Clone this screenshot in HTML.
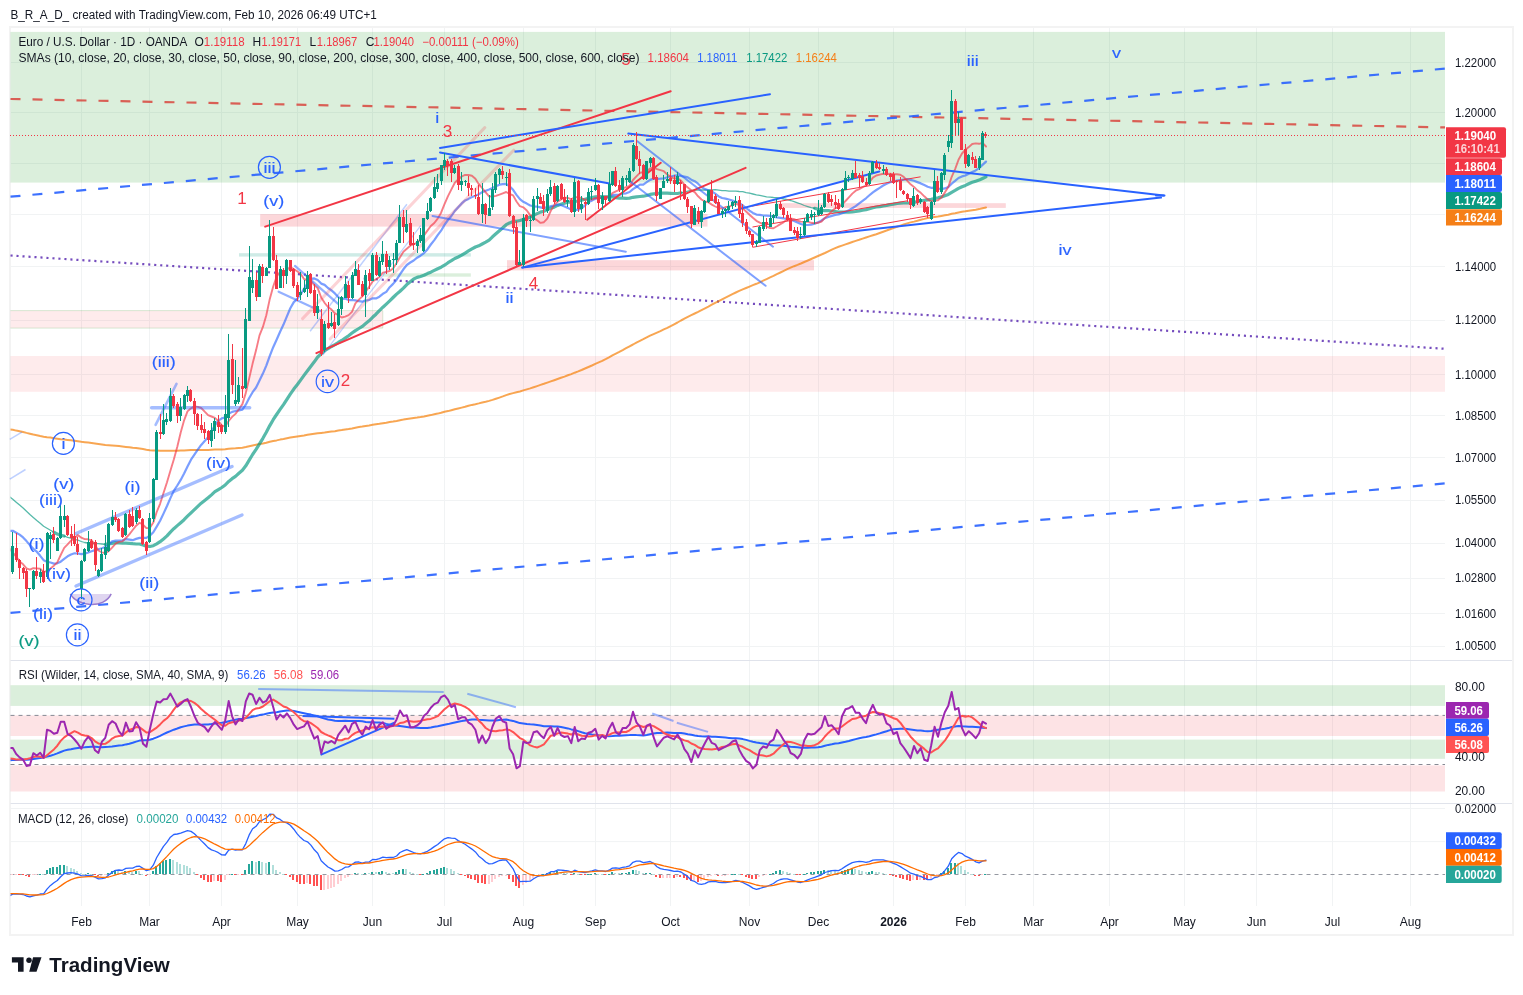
<!DOCTYPE html><html><head><meta charset="utf-8"><style>html,body{margin:0;padding:0;background:#fff;}svg{display:block;font-family:"Liberation Sans",sans-serif;will-change:transform;}</style></head><body><svg width="1523" height="995" viewBox="0 0 1523 995"><defs><clipPath id="cmain"><rect x="10.5" y="28" width="1434.5" height="632"/></clipPath><clipPath id="crsi"><rect x="10.5" y="661" width="1434.5" height="142"/></clipPath><clipPath id="cmacd"><rect x="10.5" y="804" width="1434.5" height="102"/></clipPath></defs><rect x="0" y="0" width="1523" height="995" fill="#ffffff"/>
<text x="10.5" y="19.2" font-size="12" fill="#131722" text-anchor="start" font-weight="normal" textLength="366.3" lengthAdjust="spacingAndGlyphs" >B_R_A_D_ created with TradingView.com, Feb 10, 2026 06:49 UTC+1</text>
<rect x="10" y="27" width="1503" height="908" fill="none" stroke="#F3F3F3" stroke-width="2"/>
<line x1="81.5" y1="28.0" x2="81.5" y2="660.0" stroke="#F1F3F4" stroke-width="1" />
<line x1="81.5" y1="661.0" x2="81.5" y2="803.0" stroke="#F1F3F4" stroke-width="1" />
<line x1="81.5" y1="804.0" x2="81.5" y2="906.0" stroke="#F1F3F4" stroke-width="1" />
<line x1="149.5" y1="28.0" x2="149.5" y2="660.0" stroke="#F1F3F4" stroke-width="1" />
<line x1="149.5" y1="661.0" x2="149.5" y2="803.0" stroke="#F1F3F4" stroke-width="1" />
<line x1="149.5" y1="804.0" x2="149.5" y2="906.0" stroke="#F1F3F4" stroke-width="1" />
<line x1="221.5" y1="28.0" x2="221.5" y2="660.0" stroke="#F1F3F4" stroke-width="1" />
<line x1="221.5" y1="661.0" x2="221.5" y2="803.0" stroke="#F1F3F4" stroke-width="1" />
<line x1="221.5" y1="804.0" x2="221.5" y2="906.0" stroke="#F1F3F4" stroke-width="1" />
<line x1="297.5" y1="28.0" x2="297.5" y2="660.0" stroke="#F1F3F4" stroke-width="1" />
<line x1="297.5" y1="661.0" x2="297.5" y2="803.0" stroke="#F1F3F4" stroke-width="1" />
<line x1="297.5" y1="804.0" x2="297.5" y2="906.0" stroke="#F1F3F4" stroke-width="1" />
<line x1="372.5" y1="28.0" x2="372.5" y2="660.0" stroke="#F1F3F4" stroke-width="1" />
<line x1="372.5" y1="661.0" x2="372.5" y2="803.0" stroke="#F1F3F4" stroke-width="1" />
<line x1="372.5" y1="804.0" x2="372.5" y2="906.0" stroke="#F1F3F4" stroke-width="1" />
<line x1="444.5" y1="28.0" x2="444.5" y2="660.0" stroke="#F1F3F4" stroke-width="1" />
<line x1="444.5" y1="661.0" x2="444.5" y2="803.0" stroke="#F1F3F4" stroke-width="1" />
<line x1="444.5" y1="804.0" x2="444.5" y2="906.0" stroke="#F1F3F4" stroke-width="1" />
<line x1="523.5" y1="28.0" x2="523.5" y2="660.0" stroke="#F1F3F4" stroke-width="1" />
<line x1="523.5" y1="661.0" x2="523.5" y2="803.0" stroke="#F1F3F4" stroke-width="1" />
<line x1="523.5" y1="804.0" x2="523.5" y2="906.0" stroke="#F1F3F4" stroke-width="1" />
<line x1="595.5" y1="28.0" x2="595.5" y2="660.0" stroke="#F1F3F4" stroke-width="1" />
<line x1="595.5" y1="661.0" x2="595.5" y2="803.0" stroke="#F1F3F4" stroke-width="1" />
<line x1="595.5" y1="804.0" x2="595.5" y2="906.0" stroke="#F1F3F4" stroke-width="1" />
<line x1="670.5" y1="28.0" x2="670.5" y2="660.0" stroke="#F1F3F4" stroke-width="1" />
<line x1="670.5" y1="661.0" x2="670.5" y2="803.0" stroke="#F1F3F4" stroke-width="1" />
<line x1="670.5" y1="804.0" x2="670.5" y2="906.0" stroke="#F1F3F4" stroke-width="1" />
<line x1="749.5" y1="28.0" x2="749.5" y2="660.0" stroke="#F1F3F4" stroke-width="1" />
<line x1="749.5" y1="661.0" x2="749.5" y2="803.0" stroke="#F1F3F4" stroke-width="1" />
<line x1="749.5" y1="804.0" x2="749.5" y2="906.0" stroke="#F1F3F4" stroke-width="1" />
<line x1="818.5" y1="28.0" x2="818.5" y2="660.0" stroke="#F1F3F4" stroke-width="1" />
<line x1="818.5" y1="661.0" x2="818.5" y2="803.0" stroke="#F1F3F4" stroke-width="1" />
<line x1="818.5" y1="804.0" x2="818.5" y2="906.0" stroke="#F1F3F4" stroke-width="1" />
<line x1="893.5" y1="28.0" x2="893.5" y2="660.0" stroke="#F1F3F4" stroke-width="1" />
<line x1="893.5" y1="661.0" x2="893.5" y2="803.0" stroke="#F1F3F4" stroke-width="1" />
<line x1="893.5" y1="804.0" x2="893.5" y2="906.0" stroke="#F1F3F4" stroke-width="1" />
<line x1="965.5" y1="28.0" x2="965.5" y2="660.0" stroke="#F1F3F4" stroke-width="1" />
<line x1="965.5" y1="661.0" x2="965.5" y2="803.0" stroke="#F1F3F4" stroke-width="1" />
<line x1="965.5" y1="804.0" x2="965.5" y2="906.0" stroke="#F1F3F4" stroke-width="1" />
<line x1="1033.5" y1="28.0" x2="1033.5" y2="660.0" stroke="#F1F3F4" stroke-width="1" />
<line x1="1033.5" y1="661.0" x2="1033.5" y2="803.0" stroke="#F1F3F4" stroke-width="1" />
<line x1="1033.5" y1="804.0" x2="1033.5" y2="906.0" stroke="#F1F3F4" stroke-width="1" />
<line x1="1109.5" y1="28.0" x2="1109.5" y2="660.0" stroke="#F1F3F4" stroke-width="1" />
<line x1="1109.5" y1="661.0" x2="1109.5" y2="803.0" stroke="#F1F3F4" stroke-width="1" />
<line x1="1109.5" y1="804.0" x2="1109.5" y2="906.0" stroke="#F1F3F4" stroke-width="1" />
<line x1="1184.5" y1="28.0" x2="1184.5" y2="660.0" stroke="#F1F3F4" stroke-width="1" />
<line x1="1184.5" y1="661.0" x2="1184.5" y2="803.0" stroke="#F1F3F4" stroke-width="1" />
<line x1="1184.5" y1="804.0" x2="1184.5" y2="906.0" stroke="#F1F3F4" stroke-width="1" />
<line x1="1256.5" y1="28.0" x2="1256.5" y2="660.0" stroke="#F1F3F4" stroke-width="1" />
<line x1="1256.5" y1="661.0" x2="1256.5" y2="803.0" stroke="#F1F3F4" stroke-width="1" />
<line x1="1256.5" y1="804.0" x2="1256.5" y2="906.0" stroke="#F1F3F4" stroke-width="1" />
<line x1="1332.5" y1="28.0" x2="1332.5" y2="660.0" stroke="#F1F3F4" stroke-width="1" />
<line x1="1332.5" y1="661.0" x2="1332.5" y2="803.0" stroke="#F1F3F4" stroke-width="1" />
<line x1="1332.5" y1="804.0" x2="1332.5" y2="906.0" stroke="#F1F3F4" stroke-width="1" />
<line x1="1410.5" y1="28.0" x2="1410.5" y2="660.0" stroke="#F1F3F4" stroke-width="1" />
<line x1="1410.5" y1="661.0" x2="1410.5" y2="803.0" stroke="#F1F3F4" stroke-width="1" />
<line x1="1410.5" y1="804.0" x2="1410.5" y2="906.0" stroke="#F1F3F4" stroke-width="1" />
<line x1="10.5" y1="62.5" x2="1445.0" y2="62.5" stroke="#F1F3F4" stroke-width="1" />
<line x1="10.5" y1="112.5" x2="1445.0" y2="112.5" stroke="#F1F3F4" stroke-width="1" />
<line x1="10.5" y1="163.5" x2="1445.0" y2="163.5" stroke="#F1F3F4" stroke-width="1" />
<line x1="10.5" y1="214.5" x2="1445.0" y2="214.5" stroke="#F1F3F4" stroke-width="1" />
<line x1="10.5" y1="266.5" x2="1445.0" y2="266.5" stroke="#F1F3F4" stroke-width="1" />
<line x1="10.5" y1="320.5" x2="1445.0" y2="320.5" stroke="#F1F3F4" stroke-width="1" />
<line x1="10.5" y1="374.5" x2="1445.0" y2="374.5" stroke="#F1F3F4" stroke-width="1" />
<line x1="10.5" y1="415.5" x2="1445.0" y2="415.5" stroke="#F1F3F4" stroke-width="1" />
<line x1="10.5" y1="457.5" x2="1445.0" y2="457.5" stroke="#F1F3F4" stroke-width="1" />
<line x1="10.5" y1="500.5" x2="1445.0" y2="500.5" stroke="#F1F3F4" stroke-width="1" />
<line x1="10.5" y1="543.5" x2="1445.0" y2="543.5" stroke="#F1F3F4" stroke-width="1" />
<line x1="10.5" y1="578.5" x2="1445.0" y2="578.5" stroke="#F1F3F4" stroke-width="1" />
<line x1="10.5" y1="613.5" x2="1445.0" y2="613.5" stroke="#F1F3F4" stroke-width="1" />
<line x1="10.5" y1="646.5" x2="1445.0" y2="646.5" stroke="#F1F3F4" stroke-width="1" />
<line x1="10.5" y1="808.5" x2="1445.0" y2="808.5" stroke="#F1F3F4" stroke-width="1" />
<line x1="10.5" y1="841.6" x2="1445.0" y2="841.6" stroke="#F1F3F4" stroke-width="1" />
<line x1="10.5" y1="660.5" x2="1512.0" y2="660.5" stroke="#E0E3EB" stroke-width="1" />
<line x1="10.5" y1="803.5" x2="1512.0" y2="803.5" stroke="#E0E3EB" stroke-width="1" />
<rect x="10.50" y="31.90" width="1434.50" height="150.70" fill="rgba(76,175,80,0.2)" />
<rect x="260.20" y="214.10" width="447.30" height="12.50" fill="rgba(242,54,69,0.2)" />
<rect x="507.00" y="260.20" width="307.00" height="10.20" fill="rgba(242,54,69,0.2)" />
<rect x="775.00" y="203.20" width="230.80" height="4.70" fill="rgba(242,54,69,0.2)" />
<rect x="10.50" y="310.60" width="372.30" height="17.50" fill="rgba(242,54,69,0.1)" />
<line x1="10.5" y1="310.6" x2="382.8" y2="310.6" stroke="rgba(76,175,80,0.22)" stroke-width="1" />
<line x1="10.5" y1="328.1" x2="382.8" y2="328.1" stroke="rgba(76,175,80,0.22)" stroke-width="1" />
<line x1="382.8" y1="310.6" x2="382.8" y2="328.1" stroke="rgba(76,175,80,0.22)" stroke-width="1" />
<rect x="10.50" y="356.00" width="1434.50" height="35.80" fill="rgba(242,54,69,0.1)" />
<rect x="239.00" y="253.20" width="231.80" height="3.40" fill="rgba(8,153,129,0.2)" />
<rect x="383.00" y="273.30" width="87.80" height="3.40" fill="rgba(76,175,80,0.2)" />
<rect x="10.50" y="685.20" width="1434.50" height="20.70" fill="rgba(76,175,80,0.2)" />
<rect x="10.50" y="715.40" width="1434.50" height="20.60" fill="rgba(242,54,69,0.14)" />
<rect x="10.50" y="739.60" width="1434.50" height="19.20" fill="rgba(76,175,80,0.2)" />
<rect x="10.50" y="765.40" width="1434.50" height="26.10" fill="rgba(242,54,69,0.14)" />
<line x1="10.5" y1="715.4" x2="1445.0" y2="715.4" stroke="#868993" stroke-width="1" stroke-dasharray="4 4"/>
<line x1="10.5" y1="764.5" x2="1445.0" y2="764.5" stroke="#868993" stroke-width="1" stroke-dasharray="4 4"/>
<line x1="10.5" y1="874.5" x2="1445.0" y2="874.5" stroke="#9598A1" stroke-width="1" stroke-dasharray="4 4"/>
<line x1="10.5" y1="99.0" x2="1445.0" y2="127.4" stroke="#D9463E" stroke-width="2.2" stroke-dasharray="10 12" opacity="0.85"/>
<line x1="10.5" y1="196.7" x2="1445.0" y2="68.6" stroke="#2962FF" stroke-width="2.2" stroke-dasharray="10 12" opacity="0.9"/>
<line x1="10.5" y1="612.9" x2="1445.0" y2="483.4" stroke="#2962FF" stroke-width="2.2" stroke-dasharray="10 12" opacity="0.9"/>
<line x1="10.5" y1="255.5" x2="1445.0" y2="348.8" stroke="#673AB7" stroke-width="2.2" stroke-dasharray="2.1 3.9" opacity="0.9"/>
<g clip-path="url(#cmain)">
<polyline points="9.3,429.3 12.8,429.8 16.2,430.6 19.6,431.3 23.1,432.0 26.5,432.9 29.9,433.7 33.3,434.5 36.8,435.2 40.2,436.0 43.6,436.7 47.0,437.2 50.5,437.6 53.9,438.2 57.3,438.7 60.7,439.2 64.2,439.5 67.6,439.9 71.0,440.3 74.5,440.8 77.9,441.3 81.3,441.8 84.7,442.2 88.2,442.6 91.6,443.0 95.0,443.4 98.4,443.9 101.9,444.4 105.3,444.9 108.7,445.2 112.1,445.5 115.6,445.8 119.0,446.1 122.4,446.5 125.9,446.9 129.3,447.3 132.7,447.8 136.1,448.1 139.6,448.6 143.0,449.1 146.4,449.7 149.8,450.2 153.3,450.5 156.7,450.6 160.1,450.7 163.5,450.7 167.0,450.8 170.4,450.7 173.8,450.7 177.3,450.7 180.7,450.6 184.1,450.5 187.5,450.3 191.0,450.1 194.4,450.0 197.8,449.9 201.2,450.0 204.7,449.9 208.1,449.9 211.5,449.7 214.9,449.6 218.4,449.5 221.8,449.4 225.2,449.2 228.7,448.7 232.1,448.4 235.5,448.2 238.9,447.9 242.4,447.7 245.8,447.0 249.2,446.2 252.6,445.5 256.1,444.8 259.5,444.1 262.9,443.5 266.3,442.7 269.8,441.7 273.2,441.0 276.6,440.4 280.1,439.6 283.5,439.0 286.9,438.2 290.3,437.6 293.8,437.0 297.2,436.5 300.6,436.0 304.0,435.5 307.5,434.8 310.9,434.2 314.3,433.7 317.7,433.2 321.2,432.9 324.6,432.6 328.0,432.1 331.5,431.6 334.9,431.2 338.3,430.6 341.7,430.1 345.2,429.5 348.6,429.0 352.0,428.4 355.4,427.7 358.9,427.0 362.3,426.6 365.7,425.9 369.1,425.4 372.6,424.8 376.0,424.2 379.4,423.8 382.9,423.2 386.3,422.7 389.7,422.0 393.1,421.5 396.6,420.9 400.0,420.2 403.4,419.6 406.8,418.9 410.3,418.4 413.7,417.9 417.1,417.5 420.5,417.0 424.0,416.4 427.4,415.7 430.8,415.1 434.3,414.3 437.7,413.6 441.1,412.8 444.5,411.8 448.0,411.1 451.4,410.2 454.8,409.3 458.2,408.5 461.7,407.6 465.1,406.8 468.5,405.8 471.9,404.9 475.4,404.2 478.8,403.4 482.2,402.5 485.7,401.8 489.1,400.9 492.5,399.9 495.9,398.8 499.4,397.6 502.8,396.4 506.2,395.1 509.6,394.0 513.1,393.1 516.5,392.2 519.9,391.5 523.3,390.4 526.8,389.4 530.2,388.4 533.6,387.3 537.1,386.1 540.5,384.9 543.9,383.8 547.3,382.6 550.8,381.4 554.2,380.2 557.6,379.0 561.0,377.8 564.5,376.6 567.9,375.3 571.3,374.1 574.7,372.7 578.2,371.4 581.6,370.0 585.0,368.5 588.5,367.0 591.9,365.5 595.3,363.9 598.7,362.4 602.2,360.8 605.6,359.1 609.0,357.3 612.4,355.3 615.9,353.6 619.3,351.9 622.7,350.1 626.1,348.2 629.6,346.3 633.0,344.5 636.4,342.6 639.9,340.9 643.3,339.2 646.7,337.4 650.1,335.7 653.6,334.1 657.0,332.6 660.4,331.1 663.8,329.4 667.3,327.8 670.7,326.1 674.1,324.3 677.5,322.5 681.0,320.5 684.4,318.7 687.8,316.9 691.3,315.2 694.7,313.5 698.1,311.9 701.5,310.2 705.0,308.4 708.4,306.6 711.8,304.7 715.2,302.8 718.7,301.1 722.1,299.3 725.5,297.6 729.0,295.8 732.4,294.1 735.8,292.5 739.2,290.9 742.7,289.4 746.1,288.0 749.5,286.6 752.9,285.2 756.4,283.8 759.8,282.3 763.2,280.7 766.6,279.1 770.1,277.4 773.5,275.9 776.9,274.2 780.4,272.5 783.8,270.8 787.2,269.2 790.6,267.7 794.1,266.2 797.5,264.9 800.9,263.5 804.3,262.0 807.8,260.5 811.2,259.0 814.6,257.5 818.0,256.0 821.5,254.5 824.9,253.0 828.3,251.3 831.8,249.6 835.2,248.1 838.6,246.8 842.0,245.6 845.5,244.4 848.9,243.2 852.3,242.0 855.7,240.9 859.2,239.8 862.6,238.6 866.0,237.5 869.4,236.4 872.9,235.3 876.3,234.2 879.7,233.0 883.2,231.7 886.6,230.5 890.0,229.2 893.4,228.0 896.9,226.8 900.3,225.6 903.7,224.5 907.1,223.4 910.6,222.4 914.0,221.6 917.4,220.7 920.8,219.7 924.3,218.9 927.7,218.0 931.1,217.4 934.6,216.9 938.0,216.5 941.4,215.9 944.8,215.3 948.3,214.7 951.7,213.8 955.1,213.2 958.5,212.5 962.0,211.8 965.4,211.3 968.8,210.7 972.2,210.2 975.7,209.7 979.1,209.1 982.5,208.2 986.0,207.5" fill="none" stroke="#F57C00" stroke-width="2" stroke-linejoin="round" stroke-linecap="round" opacity="0.68"/>
<polyline points="9.3,496.6 12.8,499.2 16.2,502.2 19.6,505.1 23.1,508.0 26.5,511.2 29.9,514.5 33.3,517.4 36.8,520.5 40.2,523.3 43.6,526.3 47.0,528.2 50.5,530.3 53.9,532.2" fill="none" stroke="#089981" stroke-width="1.3" stroke-linejoin="round" stroke-linecap="round" opacity="0.68"/>
<polyline points="53.9,532.2 57.3,534.1 60.7,535.2 64.2,536.0" fill="none" stroke="#089981" stroke-width="3.2" stroke-linejoin="round" stroke-linecap="round" opacity="0.68"/>
<polyline points="64.2,536.0 67.6,537.3 71.0,538.1 74.5,539.3 77.9,540.2 81.3,541.5 84.7,542.5 88.2,543.0 91.6,543.0 95.0,543.5 98.4,543.6 101.9,544.0 105.3,544.4" fill="none" stroke="#089981" stroke-width="1.3" stroke-linejoin="round" stroke-linecap="round" opacity="0.68"/>
<polyline points="105.3,544.4 108.7,543.9 112.1,543.3 115.6,542.7 119.0,542.9 122.4,543.1 125.9,543.1 129.3,543.3 132.7,543.7 136.1,544.0 139.6,544.0 143.0,545.1 146.4,546.2 149.8,546.5 153.3,545.7 156.7,543.9 160.1,541.7 163.5,539.0 167.0,535.9 170.4,532.1 173.8,528.7 177.3,525.6 180.7,522.7 184.1,519.7 187.5,516.2 191.0,512.8 194.4,509.6 197.8,506.4 201.2,503.2 204.7,500.5 208.1,497.8 211.5,494.9 214.9,491.7 218.4,489.6 221.8,487.5 225.2,485.0 228.7,481.4 232.1,478.7 235.5,476.4 238.9,473.3 242.4,470.3 245.8,465.8 249.2,460.2 252.6,454.5 256.1,449.4 259.5,443.8 262.9,438.3 266.3,432.3 269.8,425.6 273.2,419.7 276.6,414.5 280.1,409.4 283.5,404.6 286.9,399.3 290.3,394.1 293.8,389.1 297.2,384.8 300.6,380.1 304.0,375.4 307.5,370.7 310.9,366.3 314.3,361.8 317.7,357.0 321.2,353.8 324.6,350.7 328.0,348.7 331.5,346.5 334.9,344.7 338.3,342.5 341.7,340.5 345.2,338.1 348.6,335.7 352.0,333.1 355.4,330.6 358.9,328.5 362.3,326.4 365.7,323.6 369.1,320.8 372.6,317.3 376.0,314.2 379.4,310.6 382.9,307.2 386.3,304.1 389.7,300.9 393.1,297.5 396.6,294.1 400.0,291.2 403.4,288.1 406.8,284.6 410.3,281.8 413.7,279.0 417.1,277.4 420.5,276.5 424.0,275.3 427.4,273.6 430.8,272.2 434.3,270.4 437.7,268.7 441.1,267.2 444.5,265.2 448.0,262.7 451.4,260.7 454.8,258.5 458.2,257.0 461.7,255.2 465.1,253.1 468.5,250.9 471.9,248.9 475.4,247.0 478.8,245.8 482.2,244.0 485.7,242.1 489.1,240.1 492.5,236.8 495.9,233.8 499.4,230.7 502.8,227.8 506.2,224.7 509.6,222.9 513.1,221.6 516.5,221.2 519.9,220.5 523.3,219.4 526.8,218.4 530.2,217.1 533.6,215.2 537.1,213.6 540.5,212.1 543.9,211.2 547.3,209.6 550.8,208.1 554.2,207.1 557.6,205.4 561.0,204.2 564.5,203.1 567.9,202.2 571.3,202.1 574.7,201.3 578.2,201.0 581.6,200.1 585.0,199.3 588.5,198.4 591.9,197.5 595.3,196.8 598.7,196.7 602.2,196.6 605.6,196.9 609.0,196.9 612.4,197.0 615.9,197.6 619.3,198.1 622.7,198.2 626.1,198.4 629.6,198.1 633.0,197.3 636.4,196.9 639.9,196.5 643.3,196.2 646.7,195.5 650.1,194.4 653.6,193.9 657.0,193.5 660.4,193.1 663.8,193.0 667.3,193.1 670.7,193.3 674.1,193.5 677.5,193.5 681.0,192.8" fill="none" stroke="#089981" stroke-width="3.2" stroke-linejoin="round" stroke-linecap="round" opacity="0.68"/>
<polyline points="681.0,192.8 684.4,192.2 687.8,191.1 691.3,190.3 694.7,190.1 698.1,190.1 701.5,190.0 705.0,190.0 708.4,189.9 711.8,189.8 715.2,189.7 718.7,190.1 722.1,190.6 725.5,190.7 729.0,191.2 732.4,191.2 735.8,191.2 739.2,191.5 742.7,191.7 746.1,192.7 749.5,193.2 752.9,194.0 756.4,194.8 759.8,195.4 763.2,196.1 766.6,196.8 770.1,197.1 773.5,197.5 776.9,197.6 780.4,198.1 783.8,199.0 787.2,199.7 790.6,200.5 794.1,201.6 797.5,202.8 800.9,204.0 804.3,205.5 807.8,206.6 811.2,207.6 814.6,208.3" fill="none" stroke="#089981" stroke-width="1.3" stroke-linejoin="round" stroke-linecap="round" opacity="0.68"/>
<polyline points="814.6,208.3 818.0,209.3 821.5,210.3 824.9,210.6 828.3,210.7 831.8,211.0 835.2,211.5 838.6,212.1 842.0,212.2 845.5,212.1 848.9,212.1 852.3,211.9 855.7,211.5 859.2,210.9 862.6,210.1 866.0,209.6 869.4,208.6 872.9,207.7 876.3,207.0 879.7,206.6 883.2,205.9 886.6,205.4 890.0,204.6 893.4,204.1 896.9,203.5 900.3,203.2 903.7,203.0 907.1,203.0 910.6,202.8 914.0,202.3 917.4,201.7 920.8,201.0 924.3,200.3 927.7,199.8 931.1,199.3 934.6,198.5 938.0,197.8 941.4,196.9 944.8,195.7 948.3,194.4 951.7,192.3 955.1,190.4 958.5,188.4 962.0,186.7 965.4,185.4 968.8,183.7 972.2,182.3 975.7,181.2 979.1,180.1 982.5,178.5 986.0,176.9" fill="none" stroke="#089981" stroke-width="3.2" stroke-linejoin="round" stroke-linecap="round" opacity="0.68"/>
<polyline points="9.3,531.0 12.8,530.8 16.2,532.7 19.6,534.6 23.1,537.4 26.5,541.1 29.9,545.1 33.3,548.8 36.8,551.7 40.2,555.8 43.6,560.2 47.0,561.7 50.5,562.5 53.9,563.6 57.3,563.3 60.7,561.7 64.2,558.8 67.6,556.3 71.0,554.5 74.5,553.3 77.9,553.5 81.3,554.2 84.7,553.7 88.2,552.5 91.6,551.3 95.0,550.1 98.4,549.2 101.9,548.3 105.3,546.9 108.7,544.6 112.1,541.4 115.6,540.7 119.0,540.5 122.4,540.4 125.9,539.2 129.3,539.7 132.7,540.2 136.1,538.9 139.6,537.9 143.0,537.9 146.4,537.9 149.8,535.8 153.3,532.2 156.7,526.6 160.1,520.8 163.5,513.6 167.0,506.0 170.4,498.1 173.8,490.9 177.3,485.5 180.7,479.9 184.1,473.6 187.5,466.5 191.0,459.7 194.4,454.7 197.8,449.7 201.2,444.9 204.7,441.0 208.1,437.2 211.5,431.6 214.9,425.2 218.4,420.7 221.8,418.4 225.2,417.4 228.7,413.7 232.1,411.9 235.5,411.0 238.9,410.4 242.4,409.6 245.8,404.7 249.2,398.0 252.6,392.2 256.1,387.5 259.5,380.6 262.9,373.6 266.3,365.6 269.8,355.9 273.2,347.2 276.6,339.7 280.1,331.7 283.5,324.6 286.9,316.3 290.3,308.3 293.8,302.1 297.2,298.9 300.6,294.4 304.0,288.9 307.5,283.4 310.9,278.8 314.3,278.4 317.7,279.9 321.2,283.6 324.6,284.9 328.0,288.0 331.5,290.4 334.9,293.4 338.3,297.1 341.7,298.9 345.2,298.6 348.6,300.1 352.0,300.0 355.4,300.4 358.9,301.2 362.3,301.7 365.7,300.6 369.1,300.0 372.6,298.3 376.0,298.4 379.4,296.7 382.9,293.8 386.3,291.9 389.7,287.2 393.1,283.9 396.6,279.7 400.0,274.4 403.4,269.3 406.8,265.0 410.3,262.5 413.7,260.5 417.1,257.7 420.5,255.7 424.0,253.1 427.4,249.4 430.8,244.5 434.3,240.1 437.7,235.2 441.1,230.7 444.5,224.9 448.0,220.0 451.4,216.0 454.8,211.0 458.2,207.3 461.7,203.4 465.1,200.4 468.5,198.9 471.9,197.1 475.4,195.7 478.8,194.2 482.2,192.1 485.7,190.8 489.1,189.5 492.5,188.0 495.9,186.2 499.4,184.7 502.8,184.2 506.2,183.9 509.6,186.4 513.1,189.8 516.5,194.8 519.9,199.2 523.3,201.8 526.8,203.6 530.2,205.5 533.6,206.3 537.1,206.7 540.5,207.4 543.9,208.1 547.3,207.0 550.8,206.2 554.2,205.6 557.6,204.5 561.0,205.0 564.5,206.4 567.9,207.9 571.3,209.8 574.7,210.1 578.2,209.7 581.6,208.4 585.0,205.4 588.5,201.9 591.9,200.6 595.3,198.8 598.7,198.0 602.2,197.8 605.6,198.0 609.0,197.0 612.4,195.2 615.9,194.8 619.3,194.9 622.7,193.7 626.1,193.3 629.6,192.0 633.0,189.1 636.4,187.0 639.9,184.7 643.3,184.6 646.7,182.2 650.1,179.9 653.6,178.6 657.0,178.8 660.4,178.7 663.8,178.5 667.3,177.3 670.7,176.5 674.1,175.7 677.5,175.3 681.0,176.0 684.4,176.6 687.8,177.4 691.3,179.7 694.7,181.2 698.1,183.7 701.5,187.0 705.0,189.1 708.4,190.3 711.8,191.4 715.2,193.6 718.7,196.4 722.1,198.0 725.5,198.6 729.0,199.5 732.4,200.6 735.8,201.7 739.2,203.3 742.7,205.3 746.1,208.0 749.5,210.6 752.9,212.9 756.4,214.6 759.8,214.8 763.2,215.5 766.6,215.6 770.1,215.9 773.5,216.7 776.9,217.4 780.4,217.8 783.8,218.4 787.2,218.7 790.6,219.6 794.1,220.9 797.5,222.4 800.9,224.0 804.3,225.0 807.8,225.0 811.2,224.6 814.6,223.7 818.0,222.4 821.5,220.5 824.9,218.2 828.3,217.0 831.8,215.9 835.2,214.9 838.6,214.5 842.0,213.2 845.5,211.9 848.9,210.3 852.3,208.2 855.7,206.1 859.2,203.4 862.6,200.9 866.0,198.3 869.4,195.3 872.9,192.3 876.3,190.0 879.7,187.8 883.2,185.5 886.6,183.8 890.0,182.2 893.4,181.7 896.9,180.6 900.3,180.1 903.7,179.6 907.1,179.1 910.6,179.9 914.0,180.8 917.4,182.1 920.8,183.4 924.3,185.1 927.7,186.8 931.1,187.8 934.6,187.6 938.0,188.5 941.4,189.1 944.8,188.4 948.3,187.0 951.7,183.6 955.1,180.9 958.5,178.0 962.0,176.4 965.4,175.5 968.8,173.7 972.2,172.0 975.7,170.4 979.1,168.1 982.5,164.9 986.0,161.6" fill="none" stroke="#2962FF" stroke-width="2.2" stroke-linejoin="round" stroke-linecap="round" opacity="0.62"/>
<polyline points="9.3,548.3 12.8,552.6 16.2,556.6 19.6,561.6 23.1,564.3 26.5,568.3 29.9,569.7 33.3,568.2 36.8,568.4 40.2,568.7 43.6,572.2 47.0,570.9 50.5,568.4 53.9,565.7 57.3,562.3 60.7,555.0 64.2,547.9 67.6,544.4 71.0,540.7 74.5,538.0 77.9,535.0 81.3,537.7 84.7,539.1 88.2,539.3 91.6,540.3 95.0,545.1 98.4,550.5 101.9,552.3 105.3,553.2 108.7,551.2 112.1,547.7 115.6,543.7 119.0,541.9 122.4,541.4 125.9,538.0 129.3,534.3 132.7,530.0 136.1,525.7 139.6,522.8 143.0,524.8 146.4,528.1 149.8,527.9 153.3,522.6 156.7,512.0 160.1,503.8 163.5,493.0 167.0,482.2 170.4,470.7 173.8,459.4 177.3,446.7 180.7,432.5 184.1,420.3 187.5,411.4 191.0,408.3 194.4,406.4 197.8,406.9 201.2,408.0 204.7,411.7 208.1,415.1 211.5,416.5 214.9,417.9 218.4,421.0 221.8,425.3 225.2,426.6 228.7,421.0 232.1,416.9 235.5,413.9 238.9,409.2 242.4,404.1 245.8,392.9 249.2,378.4 252.6,363.6 256.1,350.1 259.5,335.4 262.9,326.9 266.3,315.2 269.8,298.9 273.2,286.5 276.6,276.7 280.1,271.8 283.5,271.7 286.9,269.8 290.3,267.1 293.8,269.1 297.2,271.2 300.6,273.7 304.0,279.0 307.5,280.4 310.9,280.8 314.3,285.1 317.7,288.1 321.2,297.5 324.6,302.8 328.0,307.0 331.5,309.6 334.9,313.3 338.3,315.3 341.7,317.5 345.2,316.6 348.6,315.1 352.0,311.9 355.4,303.4 358.9,299.6 362.3,296.4 365.7,291.6 369.1,286.8 372.6,281.4 376.0,279.3 379.4,277.0 382.9,272.6 386.3,271.9 389.7,271.0 393.1,268.4 396.6,263.1 400.0,257.3 403.4,251.8 406.8,248.7 410.3,245.7 413.7,244.1 417.1,242.8 420.5,239.5 424.0,235.4 427.4,230.6 430.8,226.0 434.3,223.0 437.7,218.6 441.1,212.7 444.5,204.2 448.0,196.1 451.4,189.4 454.8,182.8 458.2,179.5 461.7,176.5 465.1,174.9 468.5,175.0 471.9,175.7 475.4,178.8 478.8,184.2 482.2,188.1 485.7,192.3 489.1,196.3 492.5,196.6 495.9,195.8 499.4,194.6 502.8,193.3 506.2,192.0 509.6,194.0 513.1,195.4 516.5,201.5 519.9,206.2 523.3,207.3 526.8,210.5 530.2,215.1 533.6,218.1 537.1,220.2 540.5,222.9 543.9,222.2 547.3,218.7 550.8,210.9 554.2,204.9 557.6,201.7 561.0,199.4 564.5,197.7 567.9,197.8 571.3,199.4 574.7,197.2 578.2,197.2 581.6,198.2 585.0,200.0 588.5,199.0 591.9,199.5 595.3,198.2 598.7,198.2 602.2,197.9 605.6,196.7 609.0,196.8 612.4,193.1 615.9,191.3 619.3,189.9 622.7,188.4 626.1,187.1 629.6,185.8 633.0,180.0 636.4,176.3 639.9,172.8 643.3,172.3 646.7,171.3 650.1,168.5 653.6,167.4 657.0,169.2 660.4,170.2 663.8,171.2 667.3,174.6 670.7,176.8 674.1,178.5 677.5,178.3 681.0,180.6 684.4,184.7 687.8,187.5 691.3,190.3 694.7,192.2 698.1,196.3 701.5,199.5 705.0,201.5 708.4,202.2 711.8,204.6 715.2,206.5 718.7,208.0 722.1,208.5 725.5,207.0 729.0,206.8 732.4,204.9 735.8,203.8 739.2,205.1 742.7,208.4 746.1,211.5 749.5,214.7 752.9,217.8 756.4,220.8 759.8,222.6 763.2,224.2 766.6,226.4 770.1,228.1 773.5,228.3 776.9,226.3 780.4,224.1 783.8,222.1 787.2,219.6 790.6,218.5 794.1,219.1 797.5,220.6 800.9,221.6 804.3,221.9 807.8,221.7 811.2,222.8 814.6,223.3 818.0,222.8 821.5,221.5 824.9,217.9 828.3,214.8 831.8,211.2 835.2,208.3 838.6,207.1 842.0,204.6 845.5,201.0 848.9,197.3 852.3,193.6 855.7,190.7 859.2,189.1 862.6,187.1 866.0,185.5 869.4,182.3 872.9,177.6 876.3,175.5 879.7,174.6 883.2,173.8 886.6,174.0 890.0,173.8 893.4,174.3 896.9,174.2 900.3,174.7 903.7,176.9 907.1,180.6 910.6,184.3 914.0,186.9 917.4,190.4 920.8,192.8 924.3,196.3 927.7,199.4 931.1,201.4 934.6,200.5 938.0,200.2 941.4,197.6 944.8,192.6 948.3,187.1 951.7,176.8 955.1,169.1 958.5,159.8 962.0,153.5 965.4,149.7 968.8,147.1 972.2,144.0 975.7,143.4 979.1,143.8 982.5,142.9 986.0,146.5" fill="none" stroke="#F23645" stroke-width="1.9" stroke-linejoin="round" stroke-linecap="round" opacity="0.65"/>
</g>
<g clip-path="url(#crsi)">
<line x1="258.2" y1="688.9" x2="443.7" y2="692.1" stroke="rgba(41,98,255,0.45)" stroke-width="2" />
<line x1="467.3" y1="693.8" x2="515.9" y2="707.2" stroke="rgba(41,98,255,0.45)" stroke-width="2" />
<line x1="652.2" y1="713.5" x2="673.5" y2="721.0" stroke="rgba(41,98,255,0.45)" stroke-width="2" />
<line x1="676.8" y1="722.7" x2="708.0" y2="731.9" stroke="rgba(41,98,255,0.45)" stroke-width="2" />
<line x1="302.5" y1="716.1" x2="394.4" y2="718.7" stroke="#2962FF" stroke-width="2" />
<line x1="320.6" y1="754.9" x2="394.4" y2="722.7" stroke="#2962FF" stroke-width="2" />
<polyline points="9.3,760.3 12.8,760.0 16.2,760.0 19.6,759.8 23.1,759.8 26.5,759.7 29.9,759.5 33.3,759.1 36.8,758.5 40.2,758.0 43.6,757.5 47.0,756.6 50.5,755.7 53.9,754.6 57.3,753.4 60.7,752.0 64.2,750.6 67.6,749.8 71.0,749.2 74.5,748.5 77.9,748.0 81.3,747.5 84.7,747.3 88.2,746.9 91.6,746.7 95.0,746.8 98.4,747.1 101.9,747.2 105.3,747.0 108.7,746.8 112.1,746.5 115.6,746.0 119.0,745.6 122.4,745.3 125.9,744.4 129.3,743.7 132.7,742.8 136.1,741.6 139.6,740.6 143.0,740.2 146.4,740.2 149.8,739.7 153.3,738.7 156.7,737.3 160.1,735.9 163.5,734.2 167.0,732.5 170.4,731.1 173.8,729.7 177.3,728.5 180.7,727.2 184.1,726.4 187.5,725.6 191.0,725.0 194.4,724.6 197.8,724.6 201.2,724.7 204.7,724.5 208.1,724.4 211.5,724.1 214.9,723.5 218.4,722.9 221.8,722.7 225.2,722.2 228.7,721.2 232.1,720.4 235.5,719.7 238.9,719.1 242.4,718.7 245.8,718.1 249.2,717.4 252.6,716.7 256.1,716.0 259.5,715.1 262.9,714.6 266.3,713.8 269.8,712.9 273.2,712.5 276.6,712.3 280.1,711.6 283.5,710.9 286.9,710.5 290.3,710.5 293.8,711.1 297.2,711.8 300.6,712.5 304.0,713.2 307.5,713.9 310.9,714.6 314.3,715.4 317.7,716.2 321.2,717.6 324.6,718.6 328.0,719.5 331.5,720.1 334.9,720.7 338.3,720.9 341.7,721.0 345.2,720.8 348.6,721.0 352.0,721.0 355.4,720.9 358.9,720.9 362.3,721.3 365.7,721.9 369.1,722.3 372.6,722.2 376.0,722.4 379.4,722.5 382.9,723.0 386.3,723.9 389.7,724.7 393.1,725.2 396.6,725.8 400.0,726.0 403.4,726.4 406.8,726.9 410.3,727.4 413.7,727.6 417.1,727.8 420.5,728.0 424.0,728.0 427.4,727.9 430.8,727.5 434.3,726.8 437.7,726.2 441.1,725.5 444.5,724.8 448.0,724.1 451.4,723.3 454.8,722.5 458.2,721.7 461.7,721.1 465.1,720.4 468.5,720.0 471.9,719.5 475.4,719.4 478.8,719.7 482.2,719.9 485.7,720.2 489.1,720.5 492.5,720.6 495.9,720.4 499.4,719.9 502.8,719.8 506.2,719.6 509.6,720.3 513.1,720.9 516.5,722.0 519.9,723.1 523.3,723.4 526.8,723.9 530.2,724.3 533.6,724.6 537.1,725.1 540.5,725.6 543.9,726.2 547.3,726.2 550.8,726.2 554.2,726.5 557.6,726.6 561.0,727.1 564.5,727.7 567.9,728.4 571.3,729.4 574.7,730.0 578.2,731.1 581.6,732.2 585.0,733.2 588.5,733.8 591.9,734.5 595.3,734.7 598.7,735.3 602.2,735.7 605.6,736.1 609.0,736.2 612.4,736.1 615.9,735.8 619.3,735.8 622.7,735.4 626.1,735.2 629.6,735.1 633.0,734.9 636.4,735.1 639.9,735.2 643.3,735.5 646.7,734.9 650.1,734.2 653.6,733.4 657.0,732.9 660.4,732.9 663.8,732.8 667.3,732.6 670.7,732.8 674.1,733.0 677.5,733.0 681.0,733.0 684.4,733.5 687.8,734.2 691.3,734.8 694.7,735.4 698.1,735.9 701.5,736.2 705.0,736.4 708.4,736.3 711.8,736.7 715.2,736.7 718.7,737.0 722.1,737.3 725.5,737.6 729.0,737.9 732.4,738.3 735.8,738.3 739.2,738.6 742.7,739.1 746.1,739.9 749.5,740.9 752.9,741.8 756.4,742.5 759.8,743.1 763.2,743.5 766.6,744.1 770.1,744.9 773.5,745.3 776.9,745.4 780.4,745.4 783.8,745.8 787.2,746.3 790.6,746.7 794.1,746.9 797.5,747.3 800.9,747.7 804.3,747.8 807.8,747.7 811.2,747.6 814.6,747.5 818.0,747.3 821.5,746.7 824.9,745.8 828.3,744.9 831.8,744.3 835.2,743.6 838.6,743.2 842.0,742.5 845.5,741.8 848.9,741.0 852.3,740.0 855.7,739.1 859.2,738.2 862.6,737.5 866.0,736.9 869.4,736.2 872.9,735.3 876.3,734.4 879.7,733.4 883.2,732.2 886.6,731.2 890.0,730.1 893.4,729.3 896.9,728.9 900.3,728.8 903.7,728.8 907.1,729.1 910.6,729.5 914.0,729.9 917.4,730.4 920.8,730.6 924.3,731.0 927.7,731.2 931.1,731.0 934.6,730.2 938.0,729.7 941.4,729.3 944.8,728.8 948.3,728.1 951.7,727.0 955.1,726.5 958.5,726.0 962.0,726.3 965.4,726.5 968.8,726.7 972.2,726.8 975.7,726.9 979.1,727.3 982.5,727.7 986.0,728.0" fill="none" stroke="#2962FF" stroke-width="2" stroke-linejoin="round" stroke-linecap="round" />
<polyline points="9.3,758.6 12.8,758.7 16.2,759.5 19.6,759.4 23.1,759.4 26.5,759.1 29.9,758.3 33.3,757.0 36.8,756.3 40.2,756.8 43.6,757.9 47.0,755.2 50.5,752.3 53.9,749.4 57.3,745.7 60.7,740.9 64.2,737.4 67.6,735.0 71.0,733.2 74.5,731.2 77.9,732.7 81.3,734.7 84.7,735.5 88.2,736.0 91.6,738.1 95.0,741.3 98.4,743.4 101.9,744.0 105.3,743.8 108.7,741.7 112.1,738.6 115.6,736.7 119.0,736.0 122.4,735.5 125.9,732.4 129.3,730.0 132.7,728.8 136.1,727.1 139.6,727.4 143.0,729.9 146.4,732.5 149.8,732.3 153.3,729.9 156.7,727.6 160.1,724.4 163.5,720.9 167.0,718.3 170.4,714.5 173.8,709.6 177.3,705.1 180.7,702.3 184.1,700.8 187.5,700.5 191.0,701.0 194.4,702.9 197.8,705.5 201.2,709.0 204.7,712.1 208.1,714.8 211.5,717.3 214.9,719.7 218.4,722.7 221.8,725.2 225.2,725.7 228.7,723.3 232.1,722.3 235.5,722.0 238.9,720.6 242.4,720.0 245.8,717.7 249.2,714.1 252.6,710.2 256.1,708.4 259.5,708.0 262.9,706.5 266.3,703.9 269.8,701.2 273.2,699.6 276.6,701.6 280.1,704.0 283.5,706.5 286.9,707.5 290.3,709.8 293.8,712.3 297.2,715.4 300.6,719.0 304.0,721.2 307.5,721.4 310.9,723.2 314.3,725.5 317.7,728.0 321.2,732.0 324.6,733.8 328.0,735.4 331.5,736.8 334.9,738.7 338.3,740.2 341.7,740.2 345.2,738.8 348.6,738.4 352.0,735.1 355.4,732.9 358.9,731.5 362.3,730.8 365.7,728.9 369.1,728.3 372.6,727.2 376.0,727.6 379.4,726.8 382.9,726.6 386.3,727.4 389.7,726.9 393.1,725.9 396.6,725.1 400.0,723.0 403.4,722.6 406.8,721.0 410.3,721.3 413.7,721.8 417.1,721.4 420.5,721.0 424.0,719.9 427.4,719.2 430.8,718.9 434.3,717.6 437.7,716.2 441.1,712.8 444.5,709.3 448.0,706.4 451.4,704.7 454.8,703.5 458.2,704.2 461.7,705.3 465.1,706.8 468.5,709.0 471.9,712.1 475.4,715.9 478.8,720.7 482.2,723.8 485.7,728.0 489.1,730.1 492.5,731.1 495.9,731.3 499.4,730.5 502.8,730.2 506.2,729.4 509.6,730.0 513.1,732.1 516.5,734.9 519.9,738.1 523.3,739.7 526.8,742.5 530.2,745.4 533.6,746.6 537.1,747.5 540.5,746.1 543.9,744.3 547.3,740.1 550.8,735.7 554.2,735.1 557.6,733.4 561.0,732.6 564.5,733.1 567.9,733.6 571.3,734.5 574.7,733.3 578.2,734.5 581.6,735.8 585.0,736.1 588.5,736.6 591.9,736.2 595.3,735.3 598.7,735.7 602.2,734.9 605.6,736.2 609.0,734.8 612.4,733.1 615.9,732.3 619.3,732.5 622.7,732.1 626.1,732.0 629.6,730.3 633.0,727.6 636.4,725.9 639.9,725.6 643.3,727.0 646.7,726.2 650.1,725.1 653.6,726.1 657.0,728.1 660.4,730.1 663.8,733.0 667.3,734.5 670.7,735.8 674.1,736.3 677.5,737.3 681.0,739.0 684.4,740.4 687.8,741.2 691.3,743.5 694.7,744.9 698.1,747.2 701.5,748.5 705.0,748.9 708.4,749.2 711.8,749.5 715.2,748.9 718.7,748.5 722.1,747.0 725.5,746.6 729.0,745.2 732.4,744.3 735.8,743.9 739.2,745.4 742.7,746.8 746.1,748.7 749.5,750.1 752.9,752.3 756.4,754.4 759.8,755.0 763.2,755.5 766.6,756.4 770.1,755.5 773.5,753.7 776.9,750.2 780.4,747.1 783.8,743.9 787.2,741.7 790.6,742.0 794.1,742.9 797.5,744.1 800.9,745.4 804.3,745.5 807.8,745.9 811.2,745.9 814.6,745.2 818.0,743.6 821.5,740.8 824.9,736.5 828.3,732.9 831.8,729.7 835.2,728.5 838.6,728.5 842.0,726.5 845.5,723.8 848.9,721.3 852.3,719.0 855.7,718.6 859.2,717.1 862.6,716.4 866.0,715.7 869.4,713.2 872.9,712.0 876.3,712.3 879.7,713.1 883.2,713.9 886.6,715.1 890.0,716.5 893.4,718.2 896.9,719.2 900.3,722.7 903.7,727.4 907.1,731.9 910.6,736.7 914.0,740.3 917.4,743.6 920.8,746.1 924.3,748.9 927.7,752.1 931.1,752.5 934.6,750.1 938.0,748.4 941.4,744.5 944.8,740.7 948.3,735.4 951.7,729.2 955.1,723.7 958.5,717.8 962.0,715.8 965.4,716.8 968.8,716.1 972.2,717.4 975.7,720.3 979.1,723.3 982.5,726.6 986.0,728.2" fill="none" stroke="#FF5252" stroke-width="2" stroke-linejoin="round" stroke-linecap="round" />
<polyline points="9.3,748.1 12.8,748.1 16.2,754.0 19.6,757.4 23.1,759.6 26.5,765.9 29.9,765.2 33.3,753.2 36.8,755.5 40.2,752.7 43.6,757.6 47.0,729.8 50.5,730.9 53.9,733.8 57.3,732.7 60.7,721.8 64.2,721.8 67.6,734.1 71.0,735.9 74.5,739.5 77.9,743.7 81.3,748.8 84.7,741.4 88.2,736.9 91.6,740.8 95.0,750.3 98.4,753.0 101.9,741.7 105.3,737.8 108.7,724.7 112.1,721.2 115.6,723.5 119.0,731.4 122.4,735.5 125.9,722.6 129.3,731.4 132.7,730.9 136.1,722.2 139.6,727.9 143.0,743.7 146.4,746.8 149.8,729.5 153.3,714.3 156.7,701.5 160.1,702.5 163.5,699.2 167.0,699.0 170.4,693.6 173.8,699.9 177.3,706.6 180.7,704.0 184.1,700.7 187.5,699.1 191.0,707.0 194.4,715.9 197.8,722.8 201.2,725.2 204.7,727.2 208.1,731.6 211.5,726.3 214.9,722.0 218.4,725.9 221.8,729.8 225.2,720.3 228.7,701.1 232.1,716.3 235.5,724.4 238.9,719.2 242.4,721.0 245.8,701.4 249.2,693.5 252.6,694.8 256.1,704.0 259.5,697.7 262.9,702.6 266.3,700.9 269.8,694.8 273.2,706.9 276.6,719.5 280.1,714.5 283.5,717.5 286.9,713.4 290.3,718.1 293.8,724.7 297.2,729.1 300.6,727.7 304.0,726.3 307.5,721.5 310.9,730.3 314.3,738.6 317.7,736.0 321.2,753.4 324.6,741.5 328.0,742.9 331.5,741.0 334.9,743.4 338.3,734.9 341.7,730.4 345.2,725.7 348.6,732.4 352.0,723.9 355.4,721.9 358.9,729.9 362.3,734.8 365.7,726.6 369.1,729.3 372.6,720.0 376.0,729.8 379.4,724.6 382.9,722.3 386.3,728.8 389.7,726.0 393.1,725.7 396.6,719.4 400.0,710.5 403.4,716.1 406.8,715.3 410.3,727.2 413.7,727.2 417.1,725.4 420.5,722.5 424.0,715.7 427.4,712.9 430.8,707.7 434.3,704.1 437.7,702.7 441.1,697.1 444.5,695.4 448.0,699.6 451.4,707.2 454.8,705.0 458.2,719.2 461.7,717.3 465.1,717.3 468.5,722.7 471.9,724.7 475.4,729.7 478.8,742.7 482.2,735.5 485.7,743.1 489.1,738.0 492.5,726.5 495.9,718.5 499.4,716.2 502.8,721.4 506.2,722.7 509.6,748.4 513.1,754.2 516.5,768.3 519.9,766.2 523.3,741.8 526.8,743.1 530.2,742.3 533.6,732.3 537.1,731.2 540.5,735.2 543.9,738.2 547.3,730.4 550.8,726.9 554.2,735.9 557.6,727.9 561.0,735.2 564.5,737.0 567.9,736.1 571.3,743.1 574.7,726.9 578.2,741.2 581.6,738.5 585.0,738.9 588.5,732.6 591.9,731.8 595.3,728.8 598.7,739.6 602.2,735.9 605.6,738.4 609.0,728.8 612.4,722.7 615.9,732.2 619.3,734.7 622.7,728.0 626.1,728.0 629.6,724.4 633.0,711.7 636.4,722.3 639.9,726.6 643.3,734.9 646.7,725.7 650.1,724.1 653.6,737.2 657.0,746.4 660.4,741.8 663.8,737.7 667.3,736.3 670.7,737.8 674.1,739.4 677.5,734.6 681.0,740.2 684.4,749.2 687.8,753.7 691.3,762.2 694.7,750.3 698.1,757.4 701.5,749.8 705.0,743.0 708.4,736.7 711.8,742.9 715.2,744.3 718.7,750.2 722.1,748.4 725.5,746.6 729.0,744.7 732.4,741.5 735.8,740.2 739.2,749.7 742.7,756.0 746.1,760.8 749.5,763.1 752.9,768.4 756.4,765.0 759.8,750.1 763.2,746.5 766.6,747.7 770.1,741.8 773.5,739.6 776.9,729.9 780.4,734.5 783.8,740.4 787.2,744.6 790.6,753.0 794.1,754.8 797.5,758.4 800.9,753.7 804.3,740.3 807.8,733.7 811.2,734.5 814.6,733.7 818.0,730.5 821.5,727.3 824.9,716.1 828.3,726.0 831.8,725.3 835.2,729.3 838.6,734.2 842.0,716.3 845.5,709.2 848.9,708.2 852.3,706.1 855.7,712.8 859.2,712.8 862.6,718.6 866.0,723.1 869.4,712.0 872.9,704.8 876.3,712.6 879.7,714.8 883.2,714.1 886.6,723.3 890.0,725.5 893.4,734.0 896.9,732.1 900.3,743.1 903.7,747.5 907.1,752.6 910.6,758.1 914.0,746.0 917.4,753.3 920.8,748.0 924.3,759.7 927.7,761.0 931.1,745.8 934.6,726.8 938.0,736.7 941.4,722.9 944.8,712.3 948.3,705.8 951.7,691.9 955.1,709.7 958.5,708.0 962.0,728.1 965.4,735.4 968.8,731.2 972.2,734.3 975.7,738.2 979.1,733.2 982.5,721.7 986.0,723.6" fill="none" stroke="#9C27B0" stroke-width="2" stroke-linejoin="round" stroke-linecap="round" />
</g>
<g clip-path="url(#cmacd)">
<rect x="11.00" y="874.00" width="2.00" height="1.00" fill="#FFCDD2" />
<rect x="15.00" y="874.00" width="2.00" height="1.00" fill="#FFCDD2" />
<rect x="18.00" y="874.00" width="2.00" height="1.00" fill="#FF5252" />
<rect x="22.00" y="874.00" width="2.00" height="1.00" fill="#FF5252" />
<rect x="25.00" y="875.00" width="2.00" height="1.00" fill="#FF5252" />
<rect x="28.00" y="875.00" width="2.00" height="2.00" fill="#FF5252" />
<rect x="32.00" y="874.00" width="2.00" height="1.00" fill="#FFCDD2" />
<rect x="35.00" y="874.00" width="2.00" height="1.00" fill="#FFCDD2" />
<rect x="39.00" y="874.00" width="2.00" height="1.00" fill="#26A69A" />
<rect x="42.00" y="874.00" width="2.00" height="1.00" fill="#B2DFDB" />
<rect x="46.00" y="870.00" width="2.00" height="4.00" fill="#26A69A" />
<rect x="49.00" y="868.00" width="2.00" height="6.00" fill="#26A69A" />
<rect x="52.00" y="867.00" width="2.00" height="7.00" fill="#26A69A" />
<rect x="56.00" y="867.00" width="2.00" height="7.00" fill="#26A69A" />
<rect x="59.00" y="865.00" width="2.00" height="9.00" fill="#26A69A" />
<rect x="63.00" y="865.00" width="2.00" height="9.00" fill="#26A69A" />
<rect x="66.00" y="866.00" width="2.00" height="8.00" fill="#B2DFDB" />
<rect x="70.00" y="868.00" width="2.00" height="6.00" fill="#B2DFDB" />
<rect x="73.00" y="869.00" width="2.00" height="5.00" fill="#B2DFDB" />
<rect x="76.00" y="871.00" width="2.00" height="3.00" fill="#B2DFDB" />
<rect x="80.00" y="873.00" width="2.00" height="1.00" fill="#B2DFDB" />
<rect x="83.00" y="874.00" width="2.00" height="1.00" fill="#B2DFDB" />
<rect x="87.00" y="873.00" width="2.00" height="1.00" fill="#26A69A" />
<rect x="90.00" y="874.00" width="2.00" height="1.00" fill="#B2DFDB" />
<rect x="94.00" y="874.00" width="2.00" height="1.00" fill="#FF5252" />
<rect x="97.00" y="875.00" width="2.00" height="1.00" fill="#FF5252" />
<rect x="100.00" y="875.00" width="2.00" height="1.00" fill="#FFCDD2" />
<rect x="104.00" y="874.00" width="2.00" height="1.00" fill="#FFCDD2" />
<rect x="107.00" y="873.00" width="2.00" height="1.00" fill="#26A69A" />
<rect x="111.00" y="871.00" width="2.00" height="3.00" fill="#26A69A" />
<rect x="114.00" y="870.00" width="2.00" height="4.00" fill="#26A69A" />
<rect x="117.00" y="871.00" width="2.00" height="3.00" fill="#B2DFDB" />
<rect x="121.00" y="872.00" width="2.00" height="2.00" fill="#B2DFDB" />
<rect x="124.00" y="871.00" width="2.00" height="3.00" fill="#26A69A" />
<rect x="128.00" y="871.00" width="2.00" height="3.00" fill="#B2DFDB" />
<rect x="131.00" y="872.00" width="2.00" height="2.00" fill="#B2DFDB" />
<rect x="135.00" y="871.00" width="2.00" height="3.00" fill="#26A69A" />
<rect x="138.00" y="871.00" width="2.00" height="3.00" fill="#B2DFDB" />
<rect x="141.00" y="874.00" width="2.00" height="1.00" fill="#B2DFDB" />
<rect x="145.00" y="875.00" width="2.00" height="1.00" fill="#FF5252" />
<rect x="148.00" y="874.00" width="2.00" height="1.00" fill="#FFCDD2" />
<rect x="152.00" y="871.00" width="2.00" height="3.00" fill="#26A69A" />
<rect x="155.00" y="866.00" width="2.00" height="8.00" fill="#26A69A" />
<rect x="159.00" y="863.00" width="2.00" height="11.00" fill="#26A69A" />
<rect x="162.00" y="861.00" width="2.00" height="13.00" fill="#26A69A" />
<rect x="165.00" y="860.00" width="2.00" height="14.00" fill="#26A69A" />
<rect x="169.00" y="859.00" width="2.00" height="15.00" fill="#26A69A" />
<rect x="172.00" y="860.00" width="2.00" height="14.00" fill="#B2DFDB" />
<rect x="176.00" y="862.00" width="2.00" height="12.00" fill="#B2DFDB" />
<rect x="179.00" y="864.00" width="2.00" height="10.00" fill="#B2DFDB" />
<rect x="183.00" y="865.00" width="2.00" height="9.00" fill="#B2DFDB" />
<rect x="186.00" y="866.00" width="2.00" height="8.00" fill="#B2DFDB" />
<rect x="189.00" y="868.00" width="2.00" height="6.00" fill="#B2DFDB" />
<rect x="193.00" y="872.00" width="2.00" height="2.00" fill="#B2DFDB" />
<rect x="196.00" y="874.00" width="2.00" height="1.00" fill="#FF5252" />
<rect x="200.00" y="875.00" width="2.00" height="3.00" fill="#FF5252" />
<rect x="203.00" y="875.00" width="2.00" height="5.00" fill="#FF5252" />
<rect x="207.00" y="875.00" width="2.00" height="7.00" fill="#FF5252" />
<rect x="210.00" y="875.00" width="2.00" height="7.00" fill="#FF5252" />
<rect x="213.00" y="875.00" width="2.00" height="6.00" fill="#FFCDD2" />
<rect x="217.00" y="875.00" width="2.00" height="6.00" fill="#FF5252" />
<rect x="220.00" y="875.00" width="2.00" height="7.00" fill="#FF5252" />
<rect x="224.00" y="875.00" width="2.00" height="5.00" fill="#FFCDD2" />
<rect x="227.00" y="874.00" width="2.00" height="1.00" fill="#FFCDD2" />
<rect x="231.00" y="874.00" width="2.00" height="1.00" fill="#26A69A" />
<rect x="234.00" y="874.00" width="2.00" height="1.00" fill="#FF5252" />
<rect x="237.00" y="874.00" width="2.00" height="1.00" fill="#FFCDD2" />
<rect x="241.00" y="874.00" width="2.00" height="1.00" fill="#FF5252" />
<rect x="244.00" y="870.00" width="2.00" height="4.00" fill="#26A69A" />
<rect x="248.00" y="864.00" width="2.00" height="10.00" fill="#26A69A" />
<rect x="251.00" y="861.00" width="2.00" height="13.00" fill="#26A69A" />
<rect x="255.00" y="862.00" width="2.00" height="12.00" fill="#B2DFDB" />
<rect x="258.00" y="861.00" width="2.00" height="13.00" fill="#26A69A" />
<rect x="261.00" y="862.00" width="2.00" height="12.00" fill="#B2DFDB" />
<rect x="265.00" y="863.00" width="2.00" height="11.00" fill="#B2DFDB" />
<rect x="268.00" y="862.00" width="2.00" height="12.00" fill="#26A69A" />
<rect x="272.00" y="865.00" width="2.00" height="9.00" fill="#B2DFDB" />
<rect x="275.00" y="870.00" width="2.00" height="4.00" fill="#B2DFDB" />
<rect x="279.00" y="872.00" width="2.00" height="2.00" fill="#B2DFDB" />
<rect x="282.00" y="874.00" width="2.00" height="1.00" fill="#B2DFDB" />
<rect x="285.00" y="874.00" width="2.00" height="1.00" fill="#FF5252" />
<rect x="289.00" y="875.00" width="2.00" height="2.00" fill="#FF5252" />
<rect x="292.00" y="875.00" width="2.00" height="5.00" fill="#FF5252" />
<rect x="296.00" y="875.00" width="2.00" height="7.00" fill="#FF5252" />
<rect x="299.00" y="875.00" width="2.00" height="9.00" fill="#FF5252" />
<rect x="303.00" y="875.00" width="2.00" height="9.00" fill="#FF5252" />
<rect x="306.00" y="875.00" width="2.00" height="8.00" fill="#FFCDD2" />
<rect x="309.00" y="875.00" width="2.00" height="9.00" fill="#FF5252" />
<rect x="313.00" y="875.00" width="2.00" height="11.00" fill="#FF5252" />
<rect x="316.00" y="875.00" width="2.00" height="11.00" fill="#FF5252" />
<rect x="320.00" y="875.00" width="2.00" height="15.00" fill="#FF5252" />
<rect x="323.00" y="875.00" width="2.00" height="15.00" fill="#FFCDD2" />
<rect x="327.00" y="875.00" width="2.00" height="14.00" fill="#FFCDD2" />
<rect x="330.00" y="875.00" width="2.00" height="13.00" fill="#FFCDD2" />
<rect x="333.00" y="875.00" width="2.00" height="12.00" fill="#FFCDD2" />
<rect x="337.00" y="875.00" width="2.00" height="9.00" fill="#FFCDD2" />
<rect x="340.00" y="875.00" width="2.00" height="6.00" fill="#FFCDD2" />
<rect x="344.00" y="875.00" width="2.00" height="3.00" fill="#FFCDD2" />
<rect x="347.00" y="875.00" width="2.00" height="2.00" fill="#FFCDD2" />
<rect x="351.00" y="874.00" width="2.00" height="1.00" fill="#FFCDD2" />
<rect x="354.00" y="873.00" width="2.00" height="1.00" fill="#26A69A" />
<rect x="357.00" y="873.00" width="2.00" height="1.00" fill="#B2DFDB" />
<rect x="361.00" y="874.00" width="2.00" height="1.00" fill="#B2DFDB" />
<rect x="364.00" y="873.00" width="2.00" height="1.00" fill="#26A69A" />
<rect x="368.00" y="873.00" width="2.00" height="1.00" fill="#B2DFDB" />
<rect x="371.00" y="872.00" width="2.00" height="2.00" fill="#26A69A" />
<rect x="375.00" y="872.00" width="2.00" height="2.00" fill="#B2DFDB" />
<rect x="378.00" y="872.00" width="2.00" height="2.00" fill="#26A69A" />
<rect x="381.00" y="871.00" width="2.00" height="3.00" fill="#26A69A" />
<rect x="385.00" y="872.00" width="2.00" height="2.00" fill="#B2DFDB" />
<rect x="388.00" y="873.00" width="2.00" height="1.00" fill="#B2DFDB" />
<rect x="392.00" y="873.00" width="2.00" height="1.00" fill="#B2DFDB" />
<rect x="395.00" y="872.00" width="2.00" height="2.00" fill="#26A69A" />
<rect x="398.00" y="870.00" width="2.00" height="4.00" fill="#26A69A" />
<rect x="402.00" y="869.00" width="2.00" height="5.00" fill="#26A69A" />
<rect x="405.00" y="869.00" width="2.00" height="5.00" fill="#B2DFDB" />
<rect x="409.00" y="872.00" width="2.00" height="2.00" fill="#B2DFDB" />
<rect x="412.00" y="873.00" width="2.00" height="1.00" fill="#B2DFDB" />
<rect x="416.00" y="874.00" width="2.00" height="1.00" fill="#B2DFDB" />
<rect x="419.00" y="874.00" width="2.00" height="1.00" fill="#FF5252" />
<rect x="422.00" y="874.00" width="2.00" height="1.00" fill="#26A69A" />
<rect x="426.00" y="873.00" width="2.00" height="1.00" fill="#26A69A" />
<rect x="429.00" y="871.00" width="2.00" height="3.00" fill="#26A69A" />
<rect x="433.00" y="870.00" width="2.00" height="4.00" fill="#26A69A" />
<rect x="436.00" y="869.00" width="2.00" height="5.00" fill="#26A69A" />
<rect x="440.00" y="868.00" width="2.00" height="6.00" fill="#26A69A" />
<rect x="443.00" y="867.00" width="2.00" height="7.00" fill="#26A69A" />
<rect x="446.00" y="868.00" width="2.00" height="6.00" fill="#B2DFDB" />
<rect x="450.00" y="869.00" width="2.00" height="5.00" fill="#B2DFDB" />
<rect x="453.00" y="871.00" width="2.00" height="3.00" fill="#B2DFDB" />
<rect x="457.00" y="873.00" width="2.00" height="1.00" fill="#B2DFDB" />
<rect x="460.00" y="874.00" width="2.00" height="1.00" fill="#FF5252" />
<rect x="464.00" y="875.00" width="2.00" height="1.00" fill="#FF5252" />
<rect x="467.00" y="875.00" width="2.00" height="3.00" fill="#FF5252" />
<rect x="470.00" y="875.00" width="2.00" height="4.00" fill="#FF5252" />
<rect x="474.00" y="875.00" width="2.00" height="5.00" fill="#FF5252" />
<rect x="477.00" y="875.00" width="2.00" height="8.00" fill="#FF5252" />
<rect x="481.00" y="875.00" width="2.00" height="8.00" fill="#FF5252" />
<rect x="484.00" y="875.00" width="2.00" height="9.00" fill="#FF5252" />
<rect x="488.00" y="875.00" width="2.00" height="9.00" fill="#FFCDD2" />
<rect x="491.00" y="875.00" width="2.00" height="7.00" fill="#FFCDD2" />
<rect x="494.00" y="875.00" width="2.00" height="4.00" fill="#FFCDD2" />
<rect x="498.00" y="875.00" width="2.00" height="2.00" fill="#FFCDD2" />
<rect x="501.00" y="875.00" width="2.00" height="1.00" fill="#FFCDD2" />
<rect x="505.00" y="875.00" width="2.00" height="1.00" fill="#FFCDD2" />
<rect x="508.00" y="875.00" width="2.00" height="4.00" fill="#FF5252" />
<rect x="512.00" y="875.00" width="2.00" height="7.00" fill="#FF5252" />
<rect x="515.00" y="875.00" width="2.00" height="11.00" fill="#FF5252" />
<rect x="518.00" y="875.00" width="2.00" height="13.00" fill="#FF5252" />
<rect x="522.00" y="875.00" width="2.00" height="10.00" fill="#FFCDD2" />
<rect x="525.00" y="875.00" width="2.00" height="8.00" fill="#FFCDD2" />
<rect x="529.00" y="875.00" width="2.00" height="6.00" fill="#FFCDD2" />
<rect x="532.00" y="875.00" width="2.00" height="3.00" fill="#FFCDD2" />
<rect x="536.00" y="875.00" width="2.00" height="1.00" fill="#FFCDD2" />
<rect x="539.00" y="874.00" width="2.00" height="1.00" fill="#FFCDD2" />
<rect x="542.00" y="874.00" width="2.00" height="1.00" fill="#26A69A" />
<rect x="546.00" y="873.00" width="2.00" height="1.00" fill="#26A69A" />
<rect x="549.00" y="872.00" width="2.00" height="2.00" fill="#26A69A" />
<rect x="553.00" y="872.00" width="2.00" height="2.00" fill="#B2DFDB" />
<rect x="556.00" y="871.00" width="2.00" height="3.00" fill="#26A69A" />
<rect x="560.00" y="872.00" width="2.00" height="2.00" fill="#B2DFDB" />
<rect x="563.00" y="873.00" width="2.00" height="1.00" fill="#B2DFDB" />
<rect x="566.00" y="873.00" width="2.00" height="1.00" fill="#B2DFDB" />
<rect x="570.00" y="874.00" width="2.00" height="1.00" fill="#FF5252" />
<rect x="573.00" y="873.00" width="2.00" height="1.00" fill="#26A69A" />
<rect x="577.00" y="874.00" width="2.00" height="1.00" fill="#B2DFDB" />
<rect x="580.00" y="874.00" width="2.00" height="1.00" fill="#FF5252" />
<rect x="584.00" y="874.00" width="2.00" height="1.00" fill="#FF5252" />
<rect x="587.00" y="874.00" width="2.00" height="1.00" fill="#26A69A" />
<rect x="590.00" y="874.00" width="2.00" height="1.00" fill="#26A69A" />
<rect x="594.00" y="873.00" width="2.00" height="1.00" fill="#26A69A" />
<rect x="597.00" y="874.00" width="2.00" height="1.00" fill="#B2DFDB" />
<rect x="601.00" y="874.00" width="2.00" height="1.00" fill="#B2DFDB" />
<rect x="604.00" y="874.00" width="2.00" height="1.00" fill="#FF5252" />
<rect x="608.00" y="874.00" width="2.00" height="1.00" fill="#26A69A" />
<rect x="611.00" y="872.00" width="2.00" height="2.00" fill="#26A69A" />
<rect x="614.00" y="873.00" width="2.00" height="1.00" fill="#B2DFDB" />
<rect x="618.00" y="873.00" width="2.00" height="1.00" fill="#B2DFDB" />
<rect x="621.00" y="873.00" width="2.00" height="1.00" fill="#26A69A" />
<rect x="625.00" y="873.00" width="2.00" height="1.00" fill="#26A69A" />
<rect x="628.00" y="872.00" width="2.00" height="2.00" fill="#26A69A" />
<rect x="632.00" y="870.00" width="2.00" height="4.00" fill="#26A69A" />
<rect x="635.00" y="870.00" width="2.00" height="4.00" fill="#B2DFDB" />
<rect x="638.00" y="871.00" width="2.00" height="3.00" fill="#B2DFDB" />
<rect x="642.00" y="873.00" width="2.00" height="1.00" fill="#B2DFDB" />
<rect x="645.00" y="873.00" width="2.00" height="1.00" fill="#26A69A" />
<rect x="649.00" y="873.00" width="2.00" height="1.00" fill="#26A69A" />
<rect x="652.00" y="874.00" width="2.00" height="1.00" fill="#B2DFDB" />
<rect x="655.00" y="875.00" width="2.00" height="2.00" fill="#FF5252" />
<rect x="659.00" y="875.00" width="2.00" height="3.00" fill="#FF5252" />
<rect x="662.00" y="875.00" width="2.00" height="3.00" fill="#FFCDD2" />
<rect x="666.00" y="875.00" width="2.00" height="3.00" fill="#FFCDD2" />
<rect x="669.00" y="875.00" width="2.00" height="3.00" fill="#FFCDD2" />
<rect x="673.00" y="875.00" width="2.00" height="3.00" fill="#FF5252" />
<rect x="676.00" y="875.00" width="2.00" height="2.00" fill="#FFCDD2" />
<rect x="679.00" y="875.00" width="2.00" height="2.00" fill="#FF5252" />
<rect x="683.00" y="875.00" width="2.00" height="3.00" fill="#FF5252" />
<rect x="686.00" y="875.00" width="2.00" height="5.00" fill="#FF5252" />
<rect x="690.00" y="875.00" width="2.00" height="6.00" fill="#FF5252" />
<rect x="693.00" y="875.00" width="2.00" height="6.00" fill="#FFCDD2" />
<rect x="697.00" y="875.00" width="2.00" height="7.00" fill="#FF5252" />
<rect x="700.00" y="875.00" width="2.00" height="6.00" fill="#FFCDD2" />
<rect x="703.00" y="875.00" width="2.00" height="4.00" fill="#FFCDD2" />
<rect x="707.00" y="875.00" width="2.00" height="2.00" fill="#FFCDD2" />
<rect x="710.00" y="875.00" width="2.00" height="1.00" fill="#FFCDD2" />
<rect x="714.00" y="874.00" width="2.00" height="1.00" fill="#FFCDD2" />
<rect x="717.00" y="875.00" width="2.00" height="1.00" fill="#FF5252" />
<rect x="721.00" y="875.00" width="2.00" height="1.00" fill="#FFCDD2" />
<rect x="724.00" y="875.00" width="2.00" height="1.00" fill="#FFCDD2" />
<rect x="727.00" y="874.00" width="2.00" height="1.00" fill="#FFCDD2" />
<rect x="731.00" y="874.00" width="2.00" height="1.00" fill="#26A69A" />
<rect x="734.00" y="874.00" width="2.00" height="1.00" fill="#26A69A" />
<rect x="738.00" y="874.00" width="2.00" height="1.00" fill="#B2DFDB" />
<rect x="741.00" y="874.00" width="2.00" height="1.00" fill="#FF5252" />
<rect x="745.00" y="875.00" width="2.00" height="2.00" fill="#FF5252" />
<rect x="748.00" y="875.00" width="2.00" height="3.00" fill="#FF5252" />
<rect x="751.00" y="875.00" width="2.00" height="4.00" fill="#FF5252" />
<rect x="755.00" y="875.00" width="2.00" height="4.00" fill="#FF5252" />
<rect x="758.00" y="875.00" width="2.00" height="2.00" fill="#FFCDD2" />
<rect x="762.00" y="875.00" width="2.00" height="1.00" fill="#FFCDD2" />
<rect x="765.00" y="874.00" width="2.00" height="1.00" fill="#FFCDD2" />
<rect x="769.00" y="874.00" width="2.00" height="1.00" fill="#26A69A" />
<rect x="772.00" y="873.00" width="2.00" height="1.00" fill="#26A69A" />
<rect x="775.00" y="871.00" width="2.00" height="3.00" fill="#26A69A" />
<rect x="779.00" y="870.00" width="2.00" height="4.00" fill="#26A69A" />
<rect x="782.00" y="871.00" width="2.00" height="3.00" fill="#B2DFDB" />
<rect x="786.00" y="872.00" width="2.00" height="2.00" fill="#B2DFDB" />
<rect x="789.00" y="873.00" width="2.00" height="1.00" fill="#B2DFDB" />
<rect x="793.00" y="874.00" width="2.00" height="1.00" fill="#B2DFDB" />
<rect x="796.00" y="874.00" width="2.00" height="1.00" fill="#FF5252" />
<rect x="799.00" y="874.00" width="2.00" height="1.00" fill="#FF5252" />
<rect x="803.00" y="874.00" width="2.00" height="1.00" fill="#26A69A" />
<rect x="806.00" y="873.00" width="2.00" height="1.00" fill="#26A69A" />
<rect x="810.00" y="872.00" width="2.00" height="2.00" fill="#26A69A" />
<rect x="813.00" y="872.00" width="2.00" height="2.00" fill="#26A69A" />
<rect x="817.00" y="871.00" width="2.00" height="3.00" fill="#26A69A" />
<rect x="820.00" y="871.00" width="2.00" height="3.00" fill="#26A69A" />
<rect x="823.00" y="870.00" width="2.00" height="4.00" fill="#26A69A" />
<rect x="827.00" y="870.00" width="2.00" height="4.00" fill="#B2DFDB" />
<rect x="830.00" y="870.00" width="2.00" height="4.00" fill="#B2DFDB" />
<rect x="834.00" y="871.00" width="2.00" height="3.00" fill="#B2DFDB" />
<rect x="837.00" y="872.00" width="2.00" height="2.00" fill="#B2DFDB" />
<rect x="841.00" y="871.00" width="2.00" height="3.00" fill="#26A69A" />
<rect x="844.00" y="870.00" width="2.00" height="4.00" fill="#26A69A" />
<rect x="847.00" y="869.00" width="2.00" height="5.00" fill="#26A69A" />
<rect x="851.00" y="869.00" width="2.00" height="5.00" fill="#26A69A" />
<rect x="854.00" y="869.00" width="2.00" height="5.00" fill="#B2DFDB" />
<rect x="858.00" y="870.00" width="2.00" height="4.00" fill="#B2DFDB" />
<rect x="861.00" y="871.00" width="2.00" height="3.00" fill="#B2DFDB" />
<rect x="865.00" y="872.00" width="2.00" height="2.00" fill="#B2DFDB" />
<rect x="868.00" y="872.00" width="2.00" height="2.00" fill="#26A69A" />
<rect x="871.00" y="871.00" width="2.00" height="3.00" fill="#26A69A" />
<rect x="875.00" y="872.00" width="2.00" height="2.00" fill="#B2DFDB" />
<rect x="878.00" y="872.00" width="2.00" height="2.00" fill="#B2DFDB" />
<rect x="882.00" y="873.00" width="2.00" height="1.00" fill="#B2DFDB" />
<rect x="885.00" y="874.00" width="2.00" height="1.00" fill="#B2DFDB" />
<rect x="889.00" y="874.00" width="2.00" height="1.00" fill="#FF5252" />
<rect x="892.00" y="875.00" width="2.00" height="1.00" fill="#FF5252" />
<rect x="895.00" y="875.00" width="2.00" height="2.00" fill="#FF5252" />
<rect x="899.00" y="875.00" width="2.00" height="3.00" fill="#FF5252" />
<rect x="902.00" y="875.00" width="2.00" height="4.00" fill="#FF5252" />
<rect x="906.00" y="875.00" width="2.00" height="5.00" fill="#FF5252" />
<rect x="909.00" y="875.00" width="2.00" height="6.00" fill="#FF5252" />
<rect x="912.00" y="875.00" width="2.00" height="5.00" fill="#FFCDD2" />
<rect x="916.00" y="875.00" width="2.00" height="5.00" fill="#FF5252" />
<rect x="919.00" y="875.00" width="2.00" height="5.00" fill="#FFCDD2" />
<rect x="923.00" y="875.00" width="2.00" height="5.00" fill="#FF5252" />
<rect x="926.00" y="875.00" width="2.00" height="5.00" fill="#FF5252" />
<rect x="930.00" y="875.00" width="2.00" height="4.00" fill="#FFCDD2" />
<rect x="933.00" y="875.00" width="2.00" height="1.00" fill="#FFCDD2" />
<rect x="936.00" y="874.00" width="2.00" height="1.00" fill="#FFCDD2" />
<rect x="940.00" y="873.00" width="2.00" height="1.00" fill="#26A69A" />
<rect x="943.00" y="871.00" width="2.00" height="3.00" fill="#26A69A" />
<rect x="947.00" y="868.00" width="2.00" height="6.00" fill="#26A69A" />
<rect x="950.00" y="863.00" width="2.00" height="11.00" fill="#26A69A" />
<rect x="954.00" y="863.00" width="2.00" height="11.00" fill="#26A69A" />
<rect x="957.00" y="863.00" width="2.00" height="11.00" fill="#B2DFDB" />
<rect x="960.00" y="866.00" width="2.00" height="8.00" fill="#B2DFDB" />
<rect x="964.00" y="870.00" width="2.00" height="4.00" fill="#B2DFDB" />
<rect x="967.00" y="872.00" width="2.00" height="2.00" fill="#B2DFDB" />
<rect x="971.00" y="874.00" width="2.00" height="1.00" fill="#B2DFDB" />
<rect x="974.00" y="875.00" width="2.00" height="1.00" fill="#FF5252" />
<rect x="978.00" y="875.00" width="2.00" height="1.00" fill="#FF5252" />
<rect x="981.00" y="874.00" width="2.00" height="1.00" fill="#FFCDD2" />
<rect x="984.00" y="874.00" width="2.00" height="1.00" fill="#26A69A" />
<polyline points="9.3,895.9 12.8,894.2 16.2,893.8 19.6,894.1 23.1,894.5 26.5,896.0 29.9,896.9 33.3,895.8 36.8,895.1 40.2,894.0 43.6,893.8 47.0,889.1 50.5,885.4 53.9,882.8 57.3,880.5 60.7,876.7 64.2,873.6 67.6,873.0 71.0,872.7 74.5,873.1 77.9,874.1 81.3,875.7 84.7,875.9 88.2,875.4 91.6,875.6 95.0,877.2 98.4,878.8 101.9,878.6 105.3,877.9 108.7,875.1 112.1,872.3 115.6,870.4 119.0,870.0 122.4,870.3 125.9,868.4 129.3,868.2 132.7,868.1 136.1,866.5 139.6,866.2 143.0,868.4 146.4,870.7 149.8,869.6 153.3,865.2 156.7,857.5 160.1,851.8 163.5,846.3 167.0,842.2 170.4,837.2 173.8,834.5 177.3,834.0 180.7,833.1 184.1,831.8 187.5,830.7 191.0,831.4 194.4,833.7 197.8,837.1 201.2,840.6 204.7,844.0 208.1,847.6 211.5,849.9 214.9,851.0 218.4,852.7 221.8,854.9 225.2,855.0 228.7,850.2 232.1,849.1 235.5,850.0 238.9,849.6 242.4,849.8 245.8,843.6 249.2,834.9 252.6,828.8 256.1,826.3 259.5,821.7 262.9,819.8 266.3,818.0 269.8,814.2 273.2,814.3 276.6,817.9 280.1,819.4 283.5,821.9 286.9,822.9 290.3,825.3 293.8,829.2 297.2,833.9 300.6,837.6 304.0,840.5 307.5,841.8 310.9,845.1 314.3,849.8 317.7,853.2 321.2,860.8 324.6,864.0 328.0,867.0 331.5,868.9 334.9,871.1 338.3,870.9 341.7,869.5 345.2,867.2 348.6,866.9 352.0,864.5 355.4,862.1 358.9,862.0 362.3,863.2 365.7,862.1 369.1,862.0 372.6,859.4 376.0,859.7 379.4,858.6 382.9,857.2 386.3,857.7 389.7,857.5 393.1,857.5 396.6,856.0 400.0,852.5 403.4,850.9 406.8,849.7 410.3,851.1 413.7,852.5 417.1,853.5 420.5,853.8 424.0,852.7 427.4,851.3 430.8,849.1 434.3,846.6 437.7,844.5 441.1,841.4 444.5,838.8 448.0,837.7 451.4,838.1 454.8,838.3 458.2,840.6 461.7,842.5 465.1,844.3 468.5,846.7 471.9,849.1 475.4,851.9 478.8,856.2 482.2,858.7 485.7,862.0 489.1,863.9 492.5,863.7 495.9,862.1 499.4,860.5 502.8,860.0 506.2,860.0 509.6,864.2 513.1,868.8 516.5,876.2 519.9,881.6 523.3,881.4 526.8,881.4 530.2,881.2 533.6,878.8 537.1,876.7 540.5,875.7 543.9,875.5 547.3,873.8 550.8,871.7 554.2,871.7 557.6,870.0 561.0,870.1 564.5,870.5 567.9,870.8 571.3,872.2 574.7,870.2 578.2,871.6 581.6,872.0 585.0,872.5 588.5,871.7 591.9,870.9 595.3,869.8 598.7,870.8 602.2,870.9 605.6,871.5 609.0,870.2 612.4,868.1 615.9,867.9 619.3,868.3 622.7,867.4 626.1,866.8 629.6,865.8 633.0,862.3 636.4,861.2 639.9,861.2 643.3,862.7 646.7,862.1 650.1,861.5 653.6,863.3 657.0,866.7 660.4,868.6 663.8,869.4 667.3,869.8 670.7,870.5 674.1,871.3 677.5,871.2 681.0,872.0 684.4,874.2 687.8,876.7 691.3,880.3 694.7,881.5 698.1,883.8 701.5,884.3 705.0,883.6 708.4,881.9 711.8,881.5 715.2,881.4 718.7,882.3 722.1,882.6 725.5,882.6 729.0,882.2 732.4,881.4 735.8,880.5 739.2,881.1 742.7,882.4 746.1,884.2 749.5,885.9 752.9,888.1 756.4,889.3 759.8,888.5 763.2,887.4 766.6,886.5 770.1,885.0 773.5,883.5 776.9,881.0 780.4,879.5 783.8,878.9 787.2,878.9 790.6,879.9 794.1,880.9 797.5,882.0 800.9,882.5 804.3,881.4 807.8,879.8 811.2,878.5 814.6,877.4 818.0,876.1 821.5,874.8 824.9,872.5 828.3,871.5 831.8,870.7 835.2,870.4 838.6,870.6 842.0,868.8 845.5,866.4 848.9,864.4 852.3,862.6 855.7,861.9 859.2,861.4 862.6,861.7 866.0,862.3 869.4,861.6 872.9,860.2 876.3,859.8 879.7,859.8 883.2,859.9 886.6,860.8 890.0,861.8 893.4,863.4 896.9,864.7 900.3,866.6 903.7,868.7 907.1,870.8 910.6,873.2 914.0,874.1 917.4,875.6 920.8,876.3 924.3,878.1 927.7,879.7 931.1,879.7 934.6,877.5 938.0,876.8 941.4,874.4 944.8,870.6 948.3,866.2 951.7,858.7 955.1,855.3 958.5,852.4 962.0,853.6 965.4,856.2 968.8,857.6 972.2,859.4 975.7,861.8 979.1,862.8 982.5,861.1 986.0,860.2" fill="none" stroke="#2962FF" stroke-width="1.3" stroke-linejoin="round" stroke-linecap="round" />
<polyline points="9.3,893.5 12.8,893.7 16.2,893.7 19.6,893.8 23.1,893.9 26.5,894.3 29.9,894.8 33.3,895.0 36.8,895.0 40.2,894.8 43.6,894.6 47.0,893.5 50.5,891.9 53.9,890.1 57.3,888.2 60.7,885.9 64.2,883.4 67.6,881.3 71.0,879.6 74.5,878.3 77.9,877.5 81.3,877.1 84.7,876.9 88.2,876.6 91.6,876.4 95.0,876.6 98.4,877.0 101.9,877.3 105.3,877.4 108.7,877.0 112.1,876.0 115.6,874.9 119.0,873.9 122.4,873.2 125.9,872.3 129.3,871.5 132.7,870.8 136.1,869.9 139.6,869.2 143.0,869.0 146.4,869.4 149.8,869.4 153.3,868.6 156.7,866.4 160.1,863.4 163.5,860.0 167.0,856.4 170.4,852.6 173.8,849.0 177.3,846.0 180.7,843.4 184.1,841.1 187.5,839.0 191.0,837.5 194.4,836.7 197.8,836.8 201.2,837.6 204.7,838.8 208.1,840.6 211.5,842.4 214.9,844.2 218.4,845.9 221.8,847.7 225.2,849.1 228.7,849.4 232.1,849.3 235.5,849.4 238.9,849.5 242.4,849.5 245.8,848.3 249.2,845.6 252.6,842.3 256.1,839.1 259.5,835.6 262.9,832.4 266.3,829.6 269.8,826.5 273.2,824.0 276.6,822.8 280.1,822.1 283.5,822.1 286.9,822.2 290.3,822.8 293.8,824.1 297.2,826.1 300.6,828.4 304.0,830.8 307.5,833.0 310.9,835.4 314.3,838.3 317.7,841.3 321.2,845.2 324.6,849.0 328.0,852.6 331.5,855.8 334.9,858.9 338.3,861.3 341.7,862.9 345.2,863.8 348.6,864.4 352.0,864.4 355.4,864.0 358.9,863.6 362.3,863.5 365.7,863.2 369.1,863.0 372.6,862.3 376.0,861.7 379.4,861.1 382.9,860.3 386.3,859.8 389.7,859.3 393.1,859.0 396.6,858.4 400.0,857.2 403.4,855.9 406.8,854.7 410.3,854.0 413.7,853.7 417.1,853.6 420.5,853.7 424.0,853.5 427.4,853.0 430.8,852.2 434.3,851.1 437.7,849.8 441.1,848.1 444.5,846.3 448.0,844.5 451.4,843.3 454.8,842.3 458.2,841.9 461.7,842.0 465.1,842.5 468.5,843.3 471.9,844.5 475.4,846.0 478.8,848.0 482.2,850.2 485.7,852.5 489.1,854.8 492.5,856.6 495.9,857.7 499.4,858.3 502.8,858.6 506.2,858.9 509.6,860.0 513.1,861.7 516.5,864.6 519.9,868.0 523.3,870.7 526.8,872.8 530.2,874.5 533.6,875.4 537.1,875.6 540.5,875.6 543.9,875.6 547.3,875.2 550.8,874.5 554.2,874.0 557.6,873.2 561.0,872.6 564.5,872.2 567.9,871.9 571.3,871.9 574.7,871.6 578.2,871.6 581.6,871.7 585.0,871.9 588.5,871.8 591.9,871.6 595.3,871.3 598.7,871.2 602.2,871.1 605.6,871.2 609.0,871.0 612.4,870.4 615.9,869.9 619.3,869.6 622.7,869.2 626.1,868.7 629.6,868.1 633.0,867.0 636.4,865.8 639.9,864.9 643.3,864.5 646.7,864.0 650.1,863.5 653.6,863.5 657.0,864.1 660.4,865.0 663.8,865.9 667.3,866.7 670.7,867.4 674.1,868.2 677.5,868.8 681.0,869.5 684.4,870.4 687.8,871.7 691.3,873.4 694.7,875.0 698.1,876.8 701.5,878.3 705.0,879.3 708.4,879.9 711.8,880.2 715.2,880.4 718.7,880.8 722.1,881.2 725.5,881.5 729.0,881.6 732.4,881.6 735.8,881.4 739.2,881.3 742.7,881.5 746.1,882.1 749.5,882.8 752.9,883.9 756.4,885.0 759.8,885.7 763.2,886.0 766.6,886.1 770.1,885.9 773.5,885.4 776.9,884.5 780.4,883.5 783.8,882.6 787.2,881.9 790.6,881.5 794.1,881.4 797.5,881.5 800.9,881.7 804.3,881.6 807.8,881.3 811.2,880.7 814.6,880.0 818.0,879.3 821.5,878.4 824.9,877.2 828.3,876.1 831.8,875.0 835.2,874.1 838.6,873.4 842.0,872.5 845.5,871.2 848.9,869.9 852.3,868.4 855.7,867.1 859.2,866.0 862.6,865.1 866.0,864.6 869.4,864.0 872.9,863.2 876.3,862.5 879.7,862.0 883.2,861.5 886.6,861.4 890.0,861.5 893.4,861.9 896.9,862.4 900.3,863.3 903.7,864.4 907.1,865.6 910.6,867.2 914.0,868.5 917.4,869.9 920.8,871.2 924.3,872.6 927.7,874.0 931.1,875.1 934.6,875.6 938.0,875.9 941.4,875.6 944.8,874.6 948.3,872.9 951.7,870.0 955.1,867.1 958.5,864.2 962.0,862.1 965.4,860.9 968.8,860.2 972.2,860.1 975.7,860.4 979.1,860.9 982.5,860.9 986.0,860.8" fill="none" stroke="#FF6D00" stroke-width="1.3" stroke-linejoin="round" stroke-linecap="round" />
</g>
<line x1="76.0" y1="533.5" x2="232.0" y2="466.5" stroke="rgba(41,98,255,0.42)" stroke-width="3.4" stroke-linecap="round"/>
<line x1="76.0" y1="586.0" x2="242.0" y2="515.0" stroke="rgba(41,98,255,0.42)" stroke-width="3.4" stroke-linecap="round"/>
<line x1="151.6" y1="407.7" x2="249.7" y2="407.7" stroke="rgba(41,98,255,0.42)" stroke-width="3.4" stroke-linecap="round"/>
<line x1="155.6" y1="424.9" x2="176.5" y2="383.9" stroke="rgba(41,98,255,0.42)" stroke-width="2.6" stroke-linecap="round"/>
<line x1="278.6" y1="291.7" x2="320.4" y2="311.0" stroke="rgba(41,98,255,0.5)" stroke-width="2.2" stroke-linecap="round"/>
<line x1="295.0" y1="265.9" x2="337.8" y2="303.6" stroke="rgba(41,98,255,0.5)" stroke-width="2.2" stroke-linecap="round"/>
<line x1="9.8" y1="439.3" x2="21.9" y2="432.1" stroke="rgba(41,98,255,0.3)" stroke-width="1.5" />
<line x1="9.8" y1="479.2" x2="25.5" y2="469.5" stroke="rgba(41,98,255,0.3)" stroke-width="1.5" />
<line x1="310.1" y1="331.2" x2="406.9" y2="204.3" stroke="rgba(41,98,255,0.3)" stroke-width="1.5" />
<line x1="322.7" y1="355.1" x2="420.7" y2="225.6" stroke="rgba(41,98,255,0.3)" stroke-width="1.2" />
<line x1="302.6" y1="318.6" x2="484.8" y2="127.6" stroke="rgba(242,54,69,0.22)" stroke-width="3" stroke-linecap="round"/>
<line x1="330.2" y1="338.8" x2="513.7" y2="150.2" stroke="rgba(242,54,69,0.22)" stroke-width="3" stroke-linecap="round"/>
<line x1="265.2" y1="226.6" x2="670.7" y2="91.2" stroke="#F23645" stroke-width="2" stroke-linecap="round"/>
<line x1="316.4" y1="353.2" x2="745.6" y2="167.8" stroke="#F23645" stroke-width="2" stroke-linecap="round"/>
<line x1="587.2" y1="219.7" x2="660.8" y2="162.8" stroke="#F23645" stroke-width="2" stroke-linecap="round"/>
<line x1="751.8" y1="206.2" x2="920.6" y2="176.8" stroke="#F23645" stroke-width="1" />
<line x1="752.5" y1="227.0" x2="908.0" y2="200.7" stroke="#F23645" stroke-width="1" />
<line x1="752.5" y1="247.3" x2="935.0" y2="214.5" stroke="#F23645" stroke-width="1" />
<line x1="432.5" y1="216.0" x2="625.8" y2="251.7" stroke="rgba(41,98,255,0.6)" stroke-width="2" stroke-linecap="round"/>
<line x1="637.0" y1="141.0" x2="773.0" y2="246.7" stroke="rgba(41,98,255,0.6)" stroke-width="2" stroke-linecap="round"/>
<line x1="629.6" y1="181.0" x2="765.6" y2="285.8" stroke="rgba(41,98,255,0.6)" stroke-width="2" stroke-linecap="round"/>
<line x1="440.0" y1="147.9" x2="770.0" y2="94.2" stroke="#2962FF" stroke-width="2" stroke-linecap="round"/>
<line x1="440.0" y1="152.4" x2="609.6" y2="183.5" stroke="#2962FF" stroke-width="2" stroke-linecap="round"/>
<line x1="628.3" y1="133.6" x2="1163.6" y2="195.6" stroke="#2962FF" stroke-width="2" stroke-linecap="round"/>
<line x1="522.3" y1="267.6" x2="1161.0" y2="197.6" stroke="#2962FF" stroke-width="2" stroke-linecap="round"/>
<line x1="522.3" y1="267.6" x2="879.3" y2="171.5" stroke="#2962FF" stroke-width="2" stroke-linecap="round"/>
<line x1="1156.0" y1="195.6" x2="1164.5" y2="195.6" stroke="#2962FF" stroke-width="2" stroke-linecap="round"/>
<path d="M70.4,593.9 C76,606 104,610 111.2,593.9 Z" fill="rgba(126,87,194,0.25)"/>
<path d="M70.4,593.9 C76,606 104,610 111.2,593.9" fill="none" stroke="rgba(126,87,194,0.75)" stroke-width="1.5"/>
<rect x="12.00" y="532.00" width="1.00" height="42.00" fill="#089981" />
<rect x="11.00" y="546.00" width="3.00" height="26.00" fill="#089981" />
<rect x="16.00" y="533.00" width="1.00" height="29.00" fill="#F23645" />
<rect x="15.00" y="548.00" width="3.00" height="12.00" fill="#F23645" />
<rect x="19.00" y="559.00" width="1.00" height="20.00" fill="#F23645" />
<rect x="18.00" y="560.00" width="3.00" height="8.00" fill="#F23645" />
<rect x="23.00" y="567.00" width="1.00" height="12.00" fill="#F23645" />
<rect x="22.00" y="568.00" width="3.00" height="5.00" fill="#F23645" />
<rect x="26.00" y="569.00" width="1.00" height="28.00" fill="#F23645" />
<rect x="25.00" y="571.00" width="3.00" height="18.00" fill="#F23645" />
<rect x="29.00" y="588.00" width="1.00" height="19.00" fill="#089981" />
<rect x="28.00" y="588.00" width="3.00" height="1.00" fill="#089981" />
<rect x="33.00" y="570.00" width="1.00" height="20.00" fill="#089981" />
<rect x="32.00" y="571.00" width="3.00" height="18.00" fill="#089981" />
<rect x="36.00" y="557.00" width="1.00" height="22.00" fill="#F23645" />
<rect x="35.00" y="571.00" width="3.00" height="5.00" fill="#F23645" />
<rect x="40.00" y="569.00" width="1.00" height="14.00" fill="#089981" />
<rect x="39.00" y="572.00" width="3.00" height="5.00" fill="#089981" />
<rect x="43.00" y="564.00" width="1.00" height="19.00" fill="#F23645" />
<rect x="42.00" y="571.00" width="3.00" height="11.00" fill="#F23645" />
<rect x="47.00" y="532.00" width="1.00" height="47.00" fill="#089981" />
<rect x="46.00" y="533.00" width="3.00" height="44.00" fill="#089981" />
<rect x="50.00" y="532.00" width="1.00" height="27.00" fill="#089981" />
<rect x="49.00" y="535.00" width="3.00" height="4.00" fill="#089981" />
<rect x="53.00" y="527.00" width="1.00" height="16.00" fill="#F23645" />
<rect x="52.00" y="534.00" width="3.00" height="6.00" fill="#F23645" />
<rect x="57.00" y="537.00" width="1.00" height="14.00" fill="#089981" />
<rect x="56.00" y="538.00" width="3.00" height="13.00" fill="#089981" />
<rect x="60.00" y="504.00" width="1.00" height="35.00" fill="#089981" />
<rect x="59.00" y="516.00" width="3.00" height="22.00" fill="#089981" />
<rect x="64.00" y="505.00" width="1.00" height="22.00" fill="#089981" />
<rect x="63.00" y="516.00" width="3.00" height="4.00" fill="#089981" />
<rect x="67.00" y="515.00" width="1.00" height="21.00" fill="#F23645" />
<rect x="66.00" y="516.00" width="3.00" height="19.00" fill="#F23645" />
<rect x="71.00" y="526.00" width="1.00" height="20.00" fill="#F23645" />
<rect x="70.00" y="534.00" width="3.00" height="4.00" fill="#F23645" />
<rect x="74.00" y="524.00" width="1.00" height="22.00" fill="#F23645" />
<rect x="73.00" y="536.00" width="3.00" height="8.00" fill="#F23645" />
<rect x="77.00" y="537.00" width="1.00" height="18.00" fill="#F23645" />
<rect x="76.00" y="544.00" width="3.00" height="8.00" fill="#F23645" />
<rect x="81.00" y="560.00" width="1.00" height="39.00" fill="#089981" />
<rect x="80.00" y="561.00" width="3.00" height="28.00" fill="#089981" />
<rect x="84.00" y="548.00" width="1.00" height="14.00" fill="#089981" />
<rect x="83.00" y="549.00" width="3.00" height="12.00" fill="#089981" />
<rect x="88.00" y="531.00" width="1.00" height="21.00" fill="#089981" />
<rect x="87.00" y="542.00" width="3.00" height="9.00" fill="#089981" />
<rect x="91.00" y="539.00" width="1.00" height="10.00" fill="#F23645" />
<rect x="90.00" y="541.00" width="3.00" height="7.00" fill="#F23645" />
<rect x="95.00" y="540.00" width="1.00" height="31.00" fill="#F23645" />
<rect x="94.00" y="542.00" width="3.00" height="23.00" fill="#F23645" />
<rect x="98.00" y="569.00" width="1.00" height="8.00" fill="#089981" />
<rect x="97.00" y="570.00" width="3.00" height="6.00" fill="#089981" />
<rect x="101.00" y="548.00" width="1.00" height="24.00" fill="#089981" />
<rect x="100.00" y="554.00" width="3.00" height="17.00" fill="#089981" />
<rect x="105.00" y="535.00" width="1.00" height="24.00" fill="#089981" />
<rect x="104.00" y="547.00" width="3.00" height="8.00" fill="#089981" />
<rect x="108.00" y="523.00" width="1.00" height="29.00" fill="#089981" />
<rect x="107.00" y="524.00" width="3.00" height="27.00" fill="#089981" />
<rect x="112.00" y="510.00" width="1.00" height="16.00" fill="#089981" />
<rect x="111.00" y="517.00" width="3.00" height="8.00" fill="#089981" />
<rect x="115.00" y="512.00" width="1.00" height="10.00" fill="#F23645" />
<rect x="114.00" y="517.00" width="3.00" height="3.00" fill="#F23645" />
<rect x="118.00" y="518.00" width="1.00" height="14.00" fill="#F23645" />
<rect x="117.00" y="519.00" width="3.00" height="12.00" fill="#F23645" />
<rect x="122.00" y="527.00" width="1.00" height="11.00" fill="#F23645" />
<rect x="121.00" y="528.00" width="3.00" height="9.00" fill="#F23645" />
<rect x="125.00" y="513.00" width="1.00" height="23.00" fill="#089981" />
<rect x="124.00" y="514.00" width="3.00" height="21.00" fill="#089981" />
<rect x="129.00" y="510.00" width="1.00" height="18.00" fill="#F23645" />
<rect x="128.00" y="514.00" width="3.00" height="13.00" fill="#F23645" />
<rect x="132.00" y="507.00" width="1.00" height="20.00" fill="#F23645" />
<rect x="131.00" y="516.00" width="3.00" height="10.00" fill="#F23645" />
<rect x="136.00" y="508.00" width="1.00" height="16.00" fill="#089981" />
<rect x="135.00" y="510.00" width="3.00" height="12.00" fill="#089981" />
<rect x="139.00" y="506.00" width="1.00" height="13.00" fill="#F23645" />
<rect x="138.00" y="510.00" width="3.00" height="8.00" fill="#F23645" />
<rect x="142.00" y="518.00" width="1.00" height="27.00" fill="#F23645" />
<rect x="141.00" y="519.00" width="3.00" height="25.00" fill="#F23645" />
<rect x="146.00" y="541.00" width="1.00" height="14.00" fill="#F23645" />
<rect x="145.00" y="542.00" width="3.00" height="9.00" fill="#F23645" />
<rect x="149.00" y="513.00" width="1.00" height="30.00" fill="#089981" />
<rect x="148.00" y="518.00" width="3.00" height="24.00" fill="#089981" />
<rect x="153.00" y="478.00" width="1.00" height="44.00" fill="#089981" />
<rect x="152.00" y="479.00" width="3.00" height="40.00" fill="#089981" />
<rect x="156.00" y="430.00" width="1.00" height="50.00" fill="#089981" />
<rect x="155.00" y="432.00" width="3.00" height="48.00" fill="#089981" />
<rect x="160.00" y="414.00" width="1.00" height="25.00" fill="#F23645" />
<rect x="159.00" y="432.00" width="3.00" height="2.00" fill="#F23645" />
<rect x="163.00" y="404.00" width="1.00" height="31.00" fill="#089981" />
<rect x="162.00" y="420.00" width="3.00" height="14.00" fill="#089981" />
<rect x="166.00" y="413.00" width="1.00" height="12.00" fill="#089981" />
<rect x="165.00" y="419.00" width="3.00" height="3.00" fill="#089981" />
<rect x="170.00" y="388.00" width="1.00" height="34.00" fill="#089981" />
<rect x="169.00" y="396.00" width="3.00" height="25.00" fill="#089981" />
<rect x="173.00" y="394.00" width="1.00" height="14.00" fill="#F23645" />
<rect x="172.00" y="396.00" width="3.00" height="10.00" fill="#F23645" />
<rect x="177.00" y="402.00" width="1.00" height="21.00" fill="#F23645" />
<rect x="176.00" y="404.00" width="3.00" height="12.00" fill="#F23645" />
<rect x="180.00" y="398.00" width="1.00" height="23.00" fill="#089981" />
<rect x="179.00" y="407.00" width="3.00" height="9.00" fill="#089981" />
<rect x="184.00" y="394.00" width="1.00" height="16.00" fill="#089981" />
<rect x="183.00" y="395.00" width="3.00" height="14.00" fill="#089981" />
<rect x="187.00" y="386.00" width="1.00" height="16.00" fill="#089981" />
<rect x="186.00" y="390.00" width="3.00" height="6.00" fill="#089981" />
<rect x="190.00" y="389.00" width="1.00" height="13.00" fill="#F23645" />
<rect x="189.00" y="390.00" width="3.00" height="11.00" fill="#F23645" />
<rect x="194.00" y="398.00" width="1.00" height="27.00" fill="#F23645" />
<rect x="193.00" y="401.00" width="3.00" height="13.00" fill="#F23645" />
<rect x="197.00" y="413.00" width="1.00" height="17.00" fill="#F23645" />
<rect x="196.00" y="414.00" width="3.00" height="12.00" fill="#F23645" />
<rect x="201.00" y="414.00" width="1.00" height="19.00" fill="#F23645" />
<rect x="200.00" y="425.00" width="3.00" height="5.00" fill="#F23645" />
<rect x="204.00" y="422.00" width="1.00" height="17.00" fill="#F23645" />
<rect x="203.00" y="429.00" width="3.00" height="4.00" fill="#F23645" />
<rect x="208.00" y="430.00" width="1.00" height="14.00" fill="#F23645" />
<rect x="207.00" y="431.00" width="3.00" height="9.00" fill="#F23645" />
<rect x="211.00" y="423.00" width="1.00" height="24.00" fill="#089981" />
<rect x="210.00" y="430.00" width="3.00" height="11.00" fill="#089981" />
<rect x="214.00" y="418.00" width="1.00" height="21.00" fill="#089981" />
<rect x="213.00" y="421.00" width="3.00" height="10.00" fill="#089981" />
<rect x="218.00" y="415.00" width="1.00" height="18.00" fill="#F23645" />
<rect x="217.00" y="422.00" width="3.00" height="5.00" fill="#F23645" />
<rect x="221.00" y="424.00" width="1.00" height="10.00" fill="#F23645" />
<rect x="220.00" y="425.00" width="3.00" height="7.00" fill="#F23645" />
<rect x="225.00" y="395.00" width="1.00" height="39.00" fill="#089981" />
<rect x="224.00" y="414.00" width="3.00" height="18.00" fill="#089981" />
<rect x="228.00" y="334.00" width="1.00" height="93.00" fill="#089981" />
<rect x="227.00" y="360.00" width="3.00" height="58.00" fill="#089981" />
<rect x="232.00" y="344.00" width="1.00" height="50.00" fill="#F23645" />
<rect x="231.00" y="359.00" width="3.00" height="26.00" fill="#F23645" />
<rect x="235.00" y="360.00" width="1.00" height="46.00" fill="#089981" />
<rect x="234.00" y="400.00" width="3.00" height="4.00" fill="#089981" />
<rect x="238.00" y="377.00" width="1.00" height="27.00" fill="#089981" />
<rect x="237.00" y="385.00" width="3.00" height="17.00" fill="#089981" />
<rect x="242.00" y="348.00" width="1.00" height="50.00" fill="#F23645" />
<rect x="241.00" y="386.00" width="3.00" height="3.00" fill="#F23645" />
<rect x="245.00" y="308.00" width="1.00" height="81.00" fill="#089981" />
<rect x="244.00" y="319.00" width="3.00" height="69.00" fill="#089981" />
<rect x="249.00" y="246.00" width="1.00" height="75.00" fill="#089981" />
<rect x="248.00" y="277.00" width="3.00" height="44.00" fill="#089981" />
<rect x="252.00" y="259.00" width="1.00" height="34.00" fill="#089981" />
<rect x="251.00" y="280.00" width="3.00" height="8.00" fill="#089981" />
<rect x="256.00" y="272.00" width="1.00" height="29.00" fill="#F23645" />
<rect x="255.00" y="280.00" width="3.00" height="17.00" fill="#F23645" />
<rect x="259.00" y="264.00" width="1.00" height="33.00" fill="#089981" />
<rect x="258.00" y="266.00" width="3.00" height="31.00" fill="#089981" />
<rect x="262.00" y="264.00" width="1.00" height="19.00" fill="#F23645" />
<rect x="261.00" y="267.00" width="3.00" height="9.00" fill="#F23645" />
<rect x="266.00" y="267.00" width="1.00" height="9.00" fill="#089981" />
<rect x="265.00" y="268.00" width="3.00" height="8.00" fill="#089981" />
<rect x="269.00" y="220.00" width="1.00" height="48.00" fill="#089981" />
<rect x="268.00" y="236.00" width="3.00" height="32.00" fill="#089981" />
<rect x="273.00" y="227.00" width="1.00" height="34.00" fill="#F23645" />
<rect x="272.00" y="236.00" width="3.00" height="24.00" fill="#F23645" />
<rect x="276.00" y="255.00" width="1.00" height="34.00" fill="#F23645" />
<rect x="275.00" y="260.00" width="3.00" height="29.00" fill="#F23645" />
<rect x="280.00" y="266.00" width="1.00" height="22.00" fill="#089981" />
<rect x="279.00" y="269.00" width="3.00" height="19.00" fill="#089981" />
<rect x="283.00" y="268.00" width="1.00" height="20.00" fill="#F23645" />
<rect x="282.00" y="270.00" width="3.00" height="6.00" fill="#F23645" />
<rect x="286.00" y="259.00" width="1.00" height="25.00" fill="#089981" />
<rect x="285.00" y="260.00" width="3.00" height="16.00" fill="#089981" />
<rect x="290.00" y="260.00" width="1.00" height="12.00" fill="#F23645" />
<rect x="289.00" y="260.00" width="3.00" height="11.00" fill="#F23645" />
<rect x="293.00" y="268.00" width="1.00" height="20.00" fill="#F23645" />
<rect x="292.00" y="269.00" width="3.00" height="17.00" fill="#F23645" />
<rect x="297.00" y="282.00" width="1.00" height="19.00" fill="#F23645" />
<rect x="296.00" y="285.00" width="3.00" height="12.00" fill="#F23645" />
<rect x="300.00" y="272.00" width="1.00" height="28.00" fill="#089981" />
<rect x="299.00" y="292.00" width="3.00" height="3.00" fill="#089981" />
<rect x="304.00" y="280.00" width="1.00" height="13.00" fill="#089981" />
<rect x="303.00" y="288.00" width="3.00" height="4.00" fill="#089981" />
<rect x="307.00" y="271.00" width="1.00" height="26.00" fill="#089981" />
<rect x="306.00" y="275.00" width="3.00" height="14.00" fill="#089981" />
<rect x="310.00" y="273.00" width="1.00" height="21.00" fill="#F23645" />
<rect x="309.00" y="274.00" width="3.00" height="19.00" fill="#F23645" />
<rect x="314.00" y="284.00" width="1.00" height="32.00" fill="#F23645" />
<rect x="313.00" y="290.00" width="3.00" height="23.00" fill="#F23645" />
<rect x="317.00" y="294.00" width="1.00" height="25.00" fill="#089981" />
<rect x="316.00" y="306.00" width="3.00" height="7.00" fill="#089981" />
<rect x="321.00" y="309.00" width="1.00" height="47.00" fill="#F23645" />
<rect x="320.00" y="319.00" width="3.00" height="35.00" fill="#F23645" />
<rect x="324.00" y="321.00" width="1.00" height="31.00" fill="#089981" />
<rect x="323.00" y="324.00" width="3.00" height="26.00" fill="#089981" />
<rect x="328.00" y="302.00" width="1.00" height="27.00" fill="#F23645" />
<rect x="327.00" y="323.00" width="3.00" height="5.00" fill="#F23645" />
<rect x="331.00" y="312.00" width="1.00" height="15.00" fill="#089981" />
<rect x="330.00" y="323.00" width="3.00" height="3.00" fill="#089981" />
<rect x="334.00" y="314.00" width="1.00" height="24.00" fill="#F23645" />
<rect x="333.00" y="322.00" width="3.00" height="7.00" fill="#F23645" />
<rect x="338.00" y="297.00" width="1.00" height="29.00" fill="#089981" />
<rect x="337.00" y="309.00" width="3.00" height="16.00" fill="#089981" />
<rect x="341.00" y="296.00" width="1.00" height="19.00" fill="#089981" />
<rect x="340.00" y="297.00" width="3.00" height="12.00" fill="#089981" />
<rect x="345.00" y="276.00" width="1.00" height="22.00" fill="#089981" />
<rect x="344.00" y="284.00" width="3.00" height="14.00" fill="#089981" />
<rect x="348.00" y="281.00" width="1.00" height="22.00" fill="#F23645" />
<rect x="347.00" y="285.00" width="3.00" height="13.00" fill="#F23645" />
<rect x="352.00" y="272.00" width="1.00" height="27.00" fill="#089981" />
<rect x="351.00" y="275.00" width="3.00" height="23.00" fill="#089981" />
<rect x="355.00" y="261.00" width="1.00" height="15.00" fill="#089981" />
<rect x="354.00" y="269.00" width="3.00" height="7.00" fill="#089981" />
<rect x="358.00" y="264.00" width="1.00" height="21.00" fill="#F23645" />
<rect x="357.00" y="270.00" width="3.00" height="15.00" fill="#F23645" />
<rect x="362.00" y="281.00" width="1.00" height="16.00" fill="#F23645" />
<rect x="361.00" y="284.00" width="3.00" height="12.00" fill="#F23645" />
<rect x="365.00" y="270.00" width="1.00" height="47.00" fill="#089981" />
<rect x="364.00" y="275.00" width="3.00" height="20.00" fill="#089981" />
<rect x="369.00" y="269.00" width="1.00" height="20.00" fill="#F23645" />
<rect x="368.00" y="273.00" width="3.00" height="8.00" fill="#F23645" />
<rect x="372.00" y="253.00" width="1.00" height="28.00" fill="#089981" />
<rect x="371.00" y="255.00" width="3.00" height="26.00" fill="#089981" />
<rect x="376.00" y="252.00" width="1.00" height="24.00" fill="#F23645" />
<rect x="375.00" y="255.00" width="3.00" height="20.00" fill="#F23645" />
<rect x="379.00" y="257.00" width="1.00" height="20.00" fill="#089981" />
<rect x="378.00" y="261.00" width="3.00" height="15.00" fill="#089981" />
<rect x="382.00" y="241.00" width="1.00" height="24.00" fill="#089981" />
<rect x="381.00" y="254.00" width="3.00" height="8.00" fill="#089981" />
<rect x="386.00" y="251.00" width="1.00" height="23.00" fill="#F23645" />
<rect x="385.00" y="254.00" width="3.00" height="13.00" fill="#F23645" />
<rect x="389.00" y="256.00" width="1.00" height="14.00" fill="#089981" />
<rect x="388.00" y="260.00" width="3.00" height="7.00" fill="#089981" />
<rect x="393.00" y="253.00" width="1.00" height="20.00" fill="#089981" />
<rect x="392.00" y="259.00" width="3.00" height="1.00" fill="#089981" />
<rect x="396.00" y="240.00" width="1.00" height="25.00" fill="#089981" />
<rect x="395.00" y="243.00" width="3.00" height="17.00" fill="#089981" />
<rect x="399.00" y="205.00" width="1.00" height="38.00" fill="#089981" />
<rect x="398.00" y="217.00" width="3.00" height="26.00" fill="#089981" />
<rect x="403.00" y="210.00" width="1.00" height="33.00" fill="#F23645" />
<rect x="402.00" y="217.00" width="3.00" height="10.00" fill="#F23645" />
<rect x="406.00" y="210.00" width="1.00" height="23.00" fill="#089981" />
<rect x="405.00" y="224.00" width="3.00" height="8.00" fill="#089981" />
<rect x="410.00" y="218.00" width="1.00" height="28.00" fill="#F23645" />
<rect x="409.00" y="223.00" width="3.00" height="22.00" fill="#F23645" />
<rect x="413.00" y="232.00" width="1.00" height="18.00" fill="#F23645" />
<rect x="412.00" y="243.00" width="3.00" height="2.00" fill="#F23645" />
<rect x="417.00" y="239.00" width="1.00" height="14.00" fill="#089981" />
<rect x="416.00" y="241.00" width="3.00" height="5.00" fill="#089981" />
<rect x="420.00" y="228.00" width="1.00" height="15.00" fill="#089981" />
<rect x="419.00" y="235.00" width="3.00" height="6.00" fill="#089981" />
<rect x="423.00" y="218.00" width="1.00" height="34.00" fill="#089981" />
<rect x="422.00" y="218.00" width="3.00" height="33.00" fill="#089981" />
<rect x="427.00" y="203.00" width="1.00" height="17.00" fill="#089981" />
<rect x="426.00" y="211.00" width="3.00" height="8.00" fill="#089981" />
<rect x="430.00" y="197.00" width="1.00" height="15.00" fill="#089981" />
<rect x="429.00" y="198.00" width="3.00" height="13.00" fill="#089981" />
<rect x="434.00" y="177.00" width="1.00" height="22.00" fill="#089981" />
<rect x="433.00" y="187.00" width="3.00" height="11.00" fill="#089981" />
<rect x="437.00" y="174.00" width="1.00" height="18.00" fill="#089981" />
<rect x="436.00" y="183.00" width="3.00" height="6.00" fill="#089981" />
<rect x="441.00" y="165.00" width="1.00" height="20.00" fill="#089981" />
<rect x="440.00" y="165.00" width="3.00" height="16.00" fill="#089981" />
<rect x="444.00" y="153.00" width="1.00" height="17.00" fill="#089981" />
<rect x="443.00" y="160.00" width="3.00" height="6.00" fill="#089981" />
<rect x="447.00" y="159.00" width="1.00" height="17.00" fill="#F23645" />
<rect x="446.00" y="161.00" width="3.00" height="4.00" fill="#F23645" />
<rect x="451.00" y="159.00" width="1.00" height="23.00" fill="#F23645" />
<rect x="450.00" y="161.00" width="3.00" height="12.00" fill="#F23645" />
<rect x="454.00" y="165.00" width="1.00" height="9.00" fill="#089981" />
<rect x="453.00" y="168.00" width="3.00" height="5.00" fill="#089981" />
<rect x="458.00" y="164.00" width="1.00" height="26.00" fill="#F23645" />
<rect x="457.00" y="166.00" width="3.00" height="19.00" fill="#F23645" />
<rect x="461.00" y="172.00" width="1.00" height="19.00" fill="#089981" />
<rect x="460.00" y="181.00" width="3.00" height="4.00" fill="#089981" />
<rect x="465.00" y="180.00" width="1.00" height="6.00" fill="#089981" />
<rect x="464.00" y="181.00" width="3.00" height="1.00" fill="#089981" />
<rect x="468.00" y="176.00" width="1.00" height="20.00" fill="#F23645" />
<rect x="467.00" y="183.00" width="3.00" height="5.00" fill="#F23645" />
<rect x="471.00" y="185.00" width="1.00" height="11.00" fill="#F23645" />
<rect x="470.00" y="188.00" width="3.00" height="2.00" fill="#F23645" />
<rect x="475.00" y="188.00" width="1.00" height="11.00" fill="#F23645" />
<rect x="474.00" y="195.00" width="3.00" height="1.00" fill="#F23645" />
<rect x="478.00" y="185.00" width="1.00" height="30.00" fill="#F23645" />
<rect x="477.00" y="197.00" width="3.00" height="17.00" fill="#F23645" />
<rect x="482.00" y="183.00" width="1.00" height="40.00" fill="#089981" />
<rect x="481.00" y="204.00" width="3.00" height="10.00" fill="#089981" />
<rect x="485.00" y="203.00" width="1.00" height="21.00" fill="#F23645" />
<rect x="484.00" y="204.00" width="3.00" height="11.00" fill="#F23645" />
<rect x="489.00" y="195.00" width="1.00" height="21.00" fill="#089981" />
<rect x="488.00" y="208.00" width="3.00" height="8.00" fill="#089981" />
<rect x="492.00" y="183.00" width="1.00" height="27.00" fill="#089981" />
<rect x="491.00" y="189.00" width="3.00" height="18.00" fill="#089981" />
<rect x="495.00" y="172.00" width="1.00" height="21.00" fill="#089981" />
<rect x="494.00" y="174.00" width="3.00" height="16.00" fill="#089981" />
<rect x="499.00" y="168.00" width="1.00" height="16.00" fill="#089981" />
<rect x="498.00" y="169.00" width="3.00" height="6.00" fill="#089981" />
<rect x="502.00" y="166.00" width="1.00" height="13.00" fill="#F23645" />
<rect x="501.00" y="171.00" width="3.00" height="4.00" fill="#F23645" />
<rect x="506.00" y="172.00" width="1.00" height="14.00" fill="#089981" />
<rect x="505.00" y="177.00" width="3.00" height="1.00" fill="#089981" />
<rect x="509.00" y="169.00" width="1.00" height="48.00" fill="#F23645" />
<rect x="508.00" y="173.00" width="3.00" height="43.00" fill="#F23645" />
<rect x="513.00" y="215.00" width="1.00" height="19.00" fill="#F23645" />
<rect x="512.00" y="216.00" width="3.00" height="12.00" fill="#F23645" />
<rect x="516.00" y="221.00" width="1.00" height="45.00" fill="#F23645" />
<rect x="515.00" y="227.00" width="3.00" height="38.00" fill="#F23645" />
<rect x="519.00" y="250.00" width="1.00" height="15.00" fill="#089981" />
<rect x="518.00" y="262.00" width="3.00" height="3.00" fill="#089981" />
<rect x="523.00" y="214.00" width="1.00" height="53.00" fill="#089981" />
<rect x="522.00" y="218.00" width="3.00" height="47.00" fill="#089981" />
<rect x="526.00" y="214.00" width="1.00" height="13.00" fill="#F23645" />
<rect x="525.00" y="215.00" width="3.00" height="6.00" fill="#F23645" />
<rect x="530.00" y="216.00" width="1.00" height="16.00" fill="#089981" />
<rect x="529.00" y="220.00" width="3.00" height="1.00" fill="#089981" />
<rect x="533.00" y="196.00" width="1.00" height="25.00" fill="#089981" />
<rect x="532.00" y="199.00" width="3.00" height="21.00" fill="#089981" />
<rect x="537.00" y="188.00" width="1.00" height="23.00" fill="#089981" />
<rect x="536.00" y="196.00" width="3.00" height="3.00" fill="#089981" />
<rect x="540.00" y="193.00" width="1.00" height="11.00" fill="#F23645" />
<rect x="539.00" y="197.00" width="3.00" height="7.00" fill="#F23645" />
<rect x="543.00" y="195.00" width="1.00" height="21.00" fill="#F23645" />
<rect x="542.00" y="201.00" width="3.00" height="8.00" fill="#F23645" />
<rect x="547.00" y="189.00" width="1.00" height="24.00" fill="#089981" />
<rect x="546.00" y="194.00" width="3.00" height="17.00" fill="#089981" />
<rect x="550.00" y="180.00" width="1.00" height="16.00" fill="#089981" />
<rect x="549.00" y="187.00" width="3.00" height="7.00" fill="#089981" />
<rect x="554.00" y="183.00" width="1.00" height="21.00" fill="#F23645" />
<rect x="553.00" y="186.00" width="3.00" height="16.00" fill="#F23645" />
<rect x="557.00" y="185.00" width="1.00" height="17.00" fill="#089981" />
<rect x="556.00" y="186.00" width="3.00" height="15.00" fill="#089981" />
<rect x="561.00" y="183.00" width="1.00" height="17.00" fill="#F23645" />
<rect x="560.00" y="184.00" width="3.00" height="15.00" fill="#F23645" />
<rect x="564.00" y="189.00" width="1.00" height="14.00" fill="#F23645" />
<rect x="563.00" y="197.00" width="3.00" height="5.00" fill="#F23645" />
<rect x="567.00" y="195.00" width="1.00" height="12.00" fill="#089981" />
<rect x="566.00" y="200.00" width="3.00" height="2.00" fill="#089981" />
<rect x="571.00" y="198.00" width="1.00" height="15.00" fill="#F23645" />
<rect x="570.00" y="200.00" width="3.00" height="12.00" fill="#F23645" />
<rect x="574.00" y="178.00" width="1.00" height="39.00" fill="#089981" />
<rect x="573.00" y="182.00" width="3.00" height="30.00" fill="#089981" />
<rect x="578.00" y="180.00" width="1.00" height="32.00" fill="#F23645" />
<rect x="577.00" y="181.00" width="3.00" height="28.00" fill="#F23645" />
<rect x="581.00" y="196.00" width="1.00" height="17.00" fill="#089981" />
<rect x="580.00" y="204.00" width="3.00" height="5.00" fill="#089981" />
<rect x="585.00" y="201.00" width="1.00" height="19.00" fill="#F23645" />
<rect x="584.00" y="202.00" width="3.00" height="2.00" fill="#F23645" />
<rect x="588.00" y="188.00" width="1.00" height="17.00" fill="#089981" />
<rect x="587.00" y="192.00" width="3.00" height="12.00" fill="#089981" />
<rect x="591.00" y="186.00" width="1.00" height="14.00" fill="#089981" />
<rect x="590.00" y="191.00" width="3.00" height="1.00" fill="#089981" />
<rect x="595.00" y="178.00" width="1.00" height="13.00" fill="#089981" />
<rect x="594.00" y="185.00" width="3.00" height="5.00" fill="#089981" />
<rect x="598.00" y="184.00" width="1.00" height="25.00" fill="#F23645" />
<rect x="597.00" y="185.00" width="3.00" height="18.00" fill="#F23645" />
<rect x="602.00" y="192.00" width="1.00" height="18.00" fill="#089981" />
<rect x="601.00" y="196.00" width="3.00" height="8.00" fill="#089981" />
<rect x="605.00" y="196.00" width="1.00" height="9.00" fill="#F23645" />
<rect x="604.00" y="196.00" width="3.00" height="4.00" fill="#F23645" />
<rect x="609.00" y="172.00" width="1.00" height="30.00" fill="#089981" />
<rect x="608.00" y="184.00" width="3.00" height="17.00" fill="#089981" />
<rect x="612.00" y="171.00" width="1.00" height="15.00" fill="#089981" />
<rect x="611.00" y="171.00" width="3.00" height="14.00" fill="#089981" />
<rect x="615.00" y="167.00" width="1.00" height="20.00" fill="#F23645" />
<rect x="614.00" y="171.00" width="3.00" height="15.00" fill="#F23645" />
<rect x="619.00" y="180.00" width="1.00" height="12.00" fill="#F23645" />
<rect x="618.00" y="185.00" width="3.00" height="5.00" fill="#F23645" />
<rect x="622.00" y="176.00" width="1.00" height="21.00" fill="#089981" />
<rect x="621.00" y="178.00" width="3.00" height="12.00" fill="#089981" />
<rect x="626.00" y="175.00" width="1.00" height="11.00" fill="#089981" />
<rect x="625.00" y="178.00" width="3.00" height="2.00" fill="#089981" />
<rect x="629.00" y="168.00" width="1.00" height="15.00" fill="#089981" />
<rect x="628.00" y="171.00" width="3.00" height="11.00" fill="#089981" />
<rect x="633.00" y="143.00" width="1.00" height="29.00" fill="#089981" />
<rect x="632.00" y="145.00" width="3.00" height="26.00" fill="#089981" />
<rect x="636.00" y="132.00" width="1.00" height="28.00" fill="#F23645" />
<rect x="635.00" y="146.00" width="3.00" height="13.00" fill="#F23645" />
<rect x="639.00" y="151.00" width="1.00" height="23.00" fill="#F23645" />
<rect x="638.00" y="159.00" width="3.00" height="7.00" fill="#F23645" />
<rect x="643.00" y="164.00" width="1.00" height="16.00" fill="#F23645" />
<rect x="642.00" y="165.00" width="3.00" height="14.00" fill="#F23645" />
<rect x="646.00" y="161.00" width="1.00" height="19.00" fill="#089981" />
<rect x="645.00" y="161.00" width="3.00" height="18.00" fill="#089981" />
<rect x="650.00" y="157.00" width="1.00" height="10.00" fill="#089981" />
<rect x="649.00" y="158.00" width="3.00" height="5.00" fill="#089981" />
<rect x="653.00" y="157.00" width="1.00" height="23.00" fill="#F23645" />
<rect x="652.00" y="158.00" width="3.00" height="21.00" fill="#F23645" />
<rect x="656.00" y="175.00" width="1.00" height="26.00" fill="#F23645" />
<rect x="655.00" y="177.00" width="3.00" height="19.00" fill="#F23645" />
<rect x="660.00" y="188.00" width="1.00" height="11.00" fill="#089981" />
<rect x="659.00" y="188.00" width="3.00" height="11.00" fill="#089981" />
<rect x="663.00" y="175.00" width="1.00" height="13.00" fill="#089981" />
<rect x="662.00" y="181.00" width="3.00" height="7.00" fill="#089981" />
<rect x="667.00" y="172.00" width="1.00" height="11.00" fill="#089981" />
<rect x="666.00" y="179.00" width="3.00" height="2.00" fill="#089981" />
<rect x="670.00" y="167.00" width="1.00" height="17.00" fill="#F23645" />
<rect x="669.00" y="178.00" width="3.00" height="3.00" fill="#F23645" />
<rect x="674.00" y="175.00" width="1.00" height="17.00" fill="#F23645" />
<rect x="673.00" y="180.00" width="3.00" height="4.00" fill="#F23645" />
<rect x="677.00" y="172.00" width="1.00" height="13.00" fill="#089981" />
<rect x="676.00" y="176.00" width="3.00" height="8.00" fill="#089981" />
<rect x="680.00" y="180.00" width="1.00" height="20.00" fill="#F23645" />
<rect x="679.00" y="182.00" width="3.00" height="2.00" fill="#F23645" />
<rect x="684.00" y="184.00" width="1.00" height="16.00" fill="#F23645" />
<rect x="683.00" y="184.00" width="3.00" height="15.00" fill="#F23645" />
<rect x="687.00" y="197.00" width="1.00" height="16.00" fill="#F23645" />
<rect x="686.00" y="199.00" width="3.00" height="8.00" fill="#F23645" />
<rect x="691.00" y="206.00" width="1.00" height="22.00" fill="#F23645" />
<rect x="690.00" y="206.00" width="3.00" height="18.00" fill="#F23645" />
<rect x="694.00" y="205.00" width="1.00" height="20.00" fill="#089981" />
<rect x="693.00" y="208.00" width="3.00" height="17.00" fill="#089981" />
<rect x="698.00" y="207.00" width="1.00" height="17.00" fill="#F23645" />
<rect x="697.00" y="211.00" width="3.00" height="11.00" fill="#F23645" />
<rect x="701.00" y="210.00" width="1.00" height="18.00" fill="#089981" />
<rect x="700.00" y="211.00" width="3.00" height="11.00" fill="#089981" />
<rect x="704.00" y="200.00" width="1.00" height="13.00" fill="#089981" />
<rect x="703.00" y="201.00" width="3.00" height="11.00" fill="#089981" />
<rect x="708.00" y="190.00" width="1.00" height="13.00" fill="#089981" />
<rect x="707.00" y="190.00" width="3.00" height="12.00" fill="#089981" />
<rect x="711.00" y="180.00" width="1.00" height="21.00" fill="#F23645" />
<rect x="710.00" y="190.00" width="3.00" height="11.00" fill="#F23645" />
<rect x="715.00" y="194.00" width="1.00" height="10.00" fill="#F23645" />
<rect x="714.00" y="196.00" width="3.00" height="7.00" fill="#F23645" />
<rect x="718.00" y="199.00" width="1.00" height="15.00" fill="#F23645" />
<rect x="717.00" y="202.00" width="3.00" height="12.00" fill="#F23645" />
<rect x="722.00" y="209.00" width="1.00" height="9.00" fill="#089981" />
<rect x="721.00" y="211.00" width="3.00" height="3.00" fill="#089981" />
<rect x="725.00" y="208.00" width="1.00" height="9.00" fill="#089981" />
<rect x="724.00" y="209.00" width="3.00" height="2.00" fill="#089981" />
<rect x="728.00" y="201.00" width="1.00" height="10.00" fill="#089981" />
<rect x="727.00" y="206.00" width="3.00" height="4.00" fill="#089981" />
<rect x="732.00" y="201.00" width="1.00" height="8.00" fill="#089981" />
<rect x="731.00" y="202.00" width="3.00" height="4.00" fill="#089981" />
<rect x="735.00" y="196.00" width="1.00" height="11.00" fill="#089981" />
<rect x="734.00" y="201.00" width="3.00" height="2.00" fill="#089981" />
<rect x="739.00" y="196.00" width="1.00" height="22.00" fill="#F23645" />
<rect x="738.00" y="200.00" width="3.00" height="14.00" fill="#F23645" />
<rect x="742.00" y="204.00" width="1.00" height="23.00" fill="#F23645" />
<rect x="741.00" y="213.00" width="3.00" height="10.00" fill="#F23645" />
<rect x="746.00" y="219.00" width="1.00" height="15.00" fill="#F23645" />
<rect x="745.00" y="222.00" width="3.00" height="9.00" fill="#F23645" />
<rect x="749.00" y="230.00" width="1.00" height="7.00" fill="#F23645" />
<rect x="748.00" y="231.00" width="3.00" height="4.00" fill="#F23645" />
<rect x="752.00" y="234.00" width="1.00" height="13.00" fill="#F23645" />
<rect x="751.00" y="234.00" width="3.00" height="11.00" fill="#F23645" />
<rect x="756.00" y="240.00" width="1.00" height="7.00" fill="#089981" />
<rect x="755.00" y="242.00" width="3.00" height="2.00" fill="#089981" />
<rect x="759.00" y="226.00" width="1.00" height="17.00" fill="#089981" />
<rect x="758.00" y="227.00" width="3.00" height="16.00" fill="#089981" />
<rect x="763.00" y="216.00" width="1.00" height="15.00" fill="#089981" />
<rect x="762.00" y="222.00" width="3.00" height="7.00" fill="#089981" />
<rect x="766.00" y="218.00" width="1.00" height="11.00" fill="#F23645" />
<rect x="765.00" y="222.00" width="3.00" height="2.00" fill="#F23645" />
<rect x="770.00" y="212.00" width="1.00" height="15.00" fill="#089981" />
<rect x="769.00" y="218.00" width="3.00" height="9.00" fill="#089981" />
<rect x="773.00" y="214.00" width="1.00" height="9.00" fill="#089981" />
<rect x="772.00" y="215.00" width="3.00" height="3.00" fill="#089981" />
<rect x="776.00" y="199.00" width="1.00" height="19.00" fill="#089981" />
<rect x="775.00" y="204.00" width="3.00" height="12.00" fill="#089981" />
<rect x="780.00" y="201.00" width="1.00" height="9.00" fill="#F23645" />
<rect x="779.00" y="204.00" width="3.00" height="5.00" fill="#F23645" />
<rect x="783.00" y="207.00" width="1.00" height="11.00" fill="#F23645" />
<rect x="782.00" y="208.00" width="3.00" height="7.00" fill="#F23645" />
<rect x="787.00" y="211.00" width="1.00" height="10.00" fill="#F23645" />
<rect x="786.00" y="215.00" width="3.00" height="5.00" fill="#F23645" />
<rect x="790.00" y="214.00" width="1.00" height="17.00" fill="#F23645" />
<rect x="789.00" y="218.00" width="3.00" height="13.00" fill="#F23645" />
<rect x="794.00" y="227.00" width="1.00" height="8.00" fill="#F23645" />
<rect x="793.00" y="230.00" width="3.00" height="3.00" fill="#F23645" />
<rect x="797.00" y="227.00" width="1.00" height="14.00" fill="#F23645" />
<rect x="796.00" y="231.00" width="3.00" height="7.00" fill="#F23645" />
<rect x="800.00" y="227.00" width="1.00" height="12.00" fill="#089981" />
<rect x="799.00" y="234.00" width="3.00" height="1.00" fill="#089981" />
<rect x="804.00" y="218.00" width="1.00" height="18.00" fill="#089981" />
<rect x="803.00" y="221.00" width="3.00" height="14.00" fill="#089981" />
<rect x="807.00" y="213.00" width="1.00" height="9.00" fill="#089981" />
<rect x="806.00" y="214.00" width="3.00" height="8.00" fill="#089981" />
<rect x="811.00" y="210.00" width="1.00" height="10.00" fill="#089981" />
<rect x="810.00" y="214.00" width="3.00" height="3.00" fill="#089981" />
<rect x="814.00" y="212.00" width="1.00" height="12.00" fill="#089981" />
<rect x="813.00" y="214.00" width="3.00" height="1.00" fill="#089981" />
<rect x="818.00" y="200.00" width="1.00" height="16.00" fill="#089981" />
<rect x="817.00" y="210.00" width="3.00" height="5.00" fill="#089981" />
<rect x="821.00" y="205.00" width="1.00" height="10.00" fill="#089981" />
<rect x="820.00" y="207.00" width="3.00" height="7.00" fill="#089981" />
<rect x="824.00" y="193.00" width="1.00" height="15.00" fill="#089981" />
<rect x="823.00" y="194.00" width="3.00" height="13.00" fill="#089981" />
<rect x="828.00" y="192.00" width="1.00" height="11.00" fill="#F23645" />
<rect x="827.00" y="194.00" width="3.00" height="8.00" fill="#F23645" />
<rect x="831.00" y="195.00" width="1.00" height="11.00" fill="#F23645" />
<rect x="830.00" y="199.00" width="3.00" height="3.00" fill="#F23645" />
<rect x="835.00" y="195.00" width="1.00" height="14.00" fill="#F23645" />
<rect x="834.00" y="202.00" width="3.00" height="3.00" fill="#F23645" />
<rect x="838.00" y="199.00" width="1.00" height="11.00" fill="#F23645" />
<rect x="837.00" y="203.00" width="3.00" height="6.00" fill="#F23645" />
<rect x="842.00" y="188.00" width="1.00" height="20.00" fill="#089981" />
<rect x="841.00" y="189.00" width="3.00" height="18.00" fill="#089981" />
<rect x="845.00" y="171.00" width="1.00" height="19.00" fill="#089981" />
<rect x="844.00" y="178.00" width="3.00" height="12.00" fill="#089981" />
<rect x="848.00" y="175.00" width="1.00" height="7.00" fill="#089981" />
<rect x="847.00" y="177.00" width="3.00" height="1.00" fill="#089981" />
<rect x="852.00" y="170.00" width="1.00" height="10.00" fill="#089981" />
<rect x="851.00" y="173.00" width="3.00" height="6.00" fill="#089981" />
<rect x="855.00" y="161.00" width="1.00" height="17.00" fill="#F23645" />
<rect x="854.00" y="173.00" width="3.00" height="5.00" fill="#F23645" />
<rect x="859.00" y="173.00" width="1.00" height="14.00" fill="#F23645" />
<rect x="858.00" y="175.00" width="3.00" height="3.00" fill="#F23645" />
<rect x="862.00" y="171.00" width="1.00" height="12.00" fill="#F23645" />
<rect x="861.00" y="176.00" width="3.00" height="6.00" fill="#F23645" />
<rect x="866.00" y="178.00" width="1.00" height="8.00" fill="#F23645" />
<rect x="865.00" y="182.00" width="3.00" height="3.00" fill="#F23645" />
<rect x="869.00" y="171.00" width="1.00" height="14.00" fill="#089981" />
<rect x="868.00" y="173.00" width="3.00" height="11.00" fill="#089981" />
<rect x="872.00" y="161.00" width="1.00" height="12.00" fill="#089981" />
<rect x="871.00" y="162.00" width="3.00" height="11.00" fill="#089981" />
<rect x="876.00" y="160.00" width="1.00" height="9.00" fill="#F23645" />
<rect x="875.00" y="163.00" width="3.00" height="5.00" fill="#F23645" />
<rect x="879.00" y="163.00" width="1.00" height="7.00" fill="#F23645" />
<rect x="878.00" y="167.00" width="3.00" height="2.00" fill="#F23645" />
<rect x="883.00" y="165.00" width="1.00" height="9.00" fill="#089981" />
<rect x="882.00" y="169.00" width="3.00" height="2.00" fill="#089981" />
<rect x="886.00" y="167.00" width="1.00" height="9.00" fill="#F23645" />
<rect x="885.00" y="169.00" width="3.00" height="6.00" fill="#F23645" />
<rect x="890.00" y="173.00" width="1.00" height="8.00" fill="#F23645" />
<rect x="889.00" y="174.00" width="3.00" height="3.00" fill="#F23645" />
<rect x="893.00" y="172.00" width="1.00" height="12.00" fill="#F23645" />
<rect x="892.00" y="174.00" width="3.00" height="9.00" fill="#F23645" />
<rect x="896.00" y="180.00" width="1.00" height="18.00" fill="#F23645" />
<rect x="895.00" y="181.00" width="3.00" height="1.00" fill="#F23645" />
<rect x="900.00" y="177.00" width="1.00" height="14.00" fill="#F23645" />
<rect x="899.00" y="181.00" width="3.00" height="9.00" fill="#F23645" />
<rect x="903.00" y="190.00" width="1.00" height="5.00" fill="#F23645" />
<rect x="902.00" y="191.00" width="3.00" height="3.00" fill="#F23645" />
<rect x="907.00" y="193.00" width="1.00" height="9.00" fill="#F23645" />
<rect x="906.00" y="194.00" width="3.00" height="5.00" fill="#F23645" />
<rect x="910.00" y="198.00" width="1.00" height="11.00" fill="#F23645" />
<rect x="909.00" y="198.00" width="3.00" height="7.00" fill="#F23645" />
<rect x="913.00" y="188.00" width="1.00" height="19.00" fill="#089981" />
<rect x="912.00" y="196.00" width="3.00" height="10.00" fill="#089981" />
<rect x="917.00" y="194.00" width="1.00" height="11.00" fill="#F23645" />
<rect x="916.00" y="195.00" width="3.00" height="8.00" fill="#F23645" />
<rect x="920.00" y="198.00" width="1.00" height="6.00" fill="#089981" />
<rect x="919.00" y="199.00" width="3.00" height="3.00" fill="#089981" />
<rect x="924.00" y="201.00" width="1.00" height="12.00" fill="#F23645" />
<rect x="923.00" y="202.00" width="3.00" height="10.00" fill="#F23645" />
<rect x="927.00" y="206.00" width="1.00" height="12.00" fill="#F23645" />
<rect x="926.00" y="207.00" width="3.00" height="7.00" fill="#F23645" />
<rect x="931.00" y="201.00" width="1.00" height="19.00" fill="#089981" />
<rect x="930.00" y="202.00" width="3.00" height="17.00" fill="#089981" />
<rect x="934.00" y="170.00" width="1.00" height="35.00" fill="#089981" />
<rect x="933.00" y="181.00" width="3.00" height="21.00" fill="#089981" />
<rect x="937.00" y="176.00" width="1.00" height="17.00" fill="#F23645" />
<rect x="936.00" y="181.00" width="3.00" height="11.00" fill="#F23645" />
<rect x="941.00" y="172.00" width="1.00" height="22.00" fill="#089981" />
<rect x="940.00" y="173.00" width="3.00" height="19.00" fill="#089981" />
<rect x="944.00" y="153.00" width="1.00" height="27.00" fill="#089981" />
<rect x="943.00" y="155.00" width="3.00" height="20.00" fill="#089981" />
<rect x="948.00" y="135.00" width="1.00" height="17.00" fill="#089981" />
<rect x="947.00" y="141.00" width="3.00" height="6.00" fill="#089981" />
<rect x="951.00" y="90.00" width="1.00" height="58.00" fill="#089981" />
<rect x="950.00" y="101.00" width="3.00" height="42.00" fill="#089981" />
<rect x="955.00" y="99.00" width="1.00" height="37.00" fill="#F23645" />
<rect x="954.00" y="101.00" width="3.00" height="22.00" fill="#F23645" />
<rect x="958.00" y="112.00" width="1.00" height="23.00" fill="#089981" />
<rect x="957.00" y="119.00" width="3.00" height="4.00" fill="#089981" />
<rect x="961.00" y="117.00" width="1.00" height="33.00" fill="#F23645" />
<rect x="960.00" y="118.00" width="3.00" height="32.00" fill="#F23645" />
<rect x="965.00" y="144.00" width="1.00" height="24.00" fill="#F23645" />
<rect x="964.00" y="149.00" width="3.00" height="15.00" fill="#F23645" />
<rect x="968.00" y="154.00" width="1.00" height="13.00" fill="#089981" />
<rect x="967.00" y="155.00" width="3.00" height="11.00" fill="#089981" />
<rect x="972.00" y="152.00" width="1.00" height="12.00" fill="#F23645" />
<rect x="971.00" y="157.00" width="3.00" height="3.00" fill="#F23645" />
<rect x="975.00" y="156.00" width="1.00" height="12.00" fill="#F23645" />
<rect x="974.00" y="159.00" width="3.00" height="9.00" fill="#F23645" />
<rect x="979.00" y="156.00" width="1.00" height="14.00" fill="#089981" />
<rect x="978.00" y="158.00" width="3.00" height="10.00" fill="#089981" />
<rect x="982.00" y="131.00" width="1.00" height="29.00" fill="#089981" />
<rect x="981.00" y="133.00" width="3.00" height="27.00" fill="#089981" />
<rect x="985.00" y="132.00" width="1.00" height="6.00" fill="#F23645" />
<rect x="984.00" y="134.00" width="3.00" height="2.00" fill="#F23645" />
<line x1="10.0" y1="135.5" x2="1445.0" y2="135.5" stroke="#F23645" stroke-width="1" stroke-dasharray="1 2"/>
<text x="437.3" y="122.7" font-size="15" fill="#2962FF" text-anchor="middle" font-weight="normal" textLength="4.0" lengthAdjust="spacingAndGlyphs" stroke="#2962FF" stroke-width="0.15">i</text>
<text x="447.5" y="136.6" font-size="17" fill="#F23645" text-anchor="middle" font-weight="normal" >3</text>
<circle cx="269.4" cy="167.3" r="11" fill="none" stroke="#2962FF" stroke-width="1.2"/>
<text x="269.4" y="172.7" font-size="15" fill="#2962FF" text-anchor="middle" font-weight="normal" textLength="12.0" lengthAdjust="spacingAndGlyphs" stroke="#2962FF" stroke-width="0.15">iii</text>
<text x="242.0" y="204.1" font-size="17" fill="#F23645" text-anchor="middle" font-weight="normal" >1</text>
<text x="273.7" y="206.4" font-size="15" fill="#2962FF" text-anchor="middle" font-weight="normal" textLength="21.0" lengthAdjust="spacingAndGlyphs" stroke="#2962FF" stroke-width="0.15">(v)</text>
<text x="163.7" y="367.4" font-size="15" fill="#2962FF" text-anchor="middle" font-weight="normal" textLength="24.0" lengthAdjust="spacingAndGlyphs" stroke="#2962FF" stroke-width="0.15">(iii)</text>
<text x="218.4" y="468.4" font-size="15" fill="#2962FF" text-anchor="middle" font-weight="normal" textLength="25.0" lengthAdjust="spacingAndGlyphs" stroke="#2962FF" stroke-width="0.15">(iv)</text>
<circle cx="327.5" cy="381.4" r="11.3" fill="none" stroke="#2962FF" stroke-width="1.2"/>
<text x="327.5" y="386.8" font-size="15" fill="#2962FF" text-anchor="middle" font-weight="normal" textLength="13.0" lengthAdjust="spacingAndGlyphs" stroke="#2962FF" stroke-width="0.15">iv</text>
<text x="345.6" y="385.9" font-size="17" fill="#F23645" text-anchor="middle" font-weight="normal" >2</text>
<text x="509.4" y="302.9" font-size="15" fill="#2962FF" text-anchor="middle" font-weight="normal" textLength="8.0" lengthAdjust="spacingAndGlyphs" stroke="#2962FF" stroke-width="0.15">ii</text>
<text x="533.5" y="289.3" font-size="17" fill="#F23645" text-anchor="middle" font-weight="normal" >4</text>
<text x="626.0" y="64.6" font-size="17" fill="#F23645" text-anchor="middle" font-weight="normal" >5</text>
<text x="972.7" y="65.6" font-size="15" fill="#2962FF" text-anchor="middle" font-weight="normal" textLength="12.0" lengthAdjust="spacingAndGlyphs" stroke="#2962FF" stroke-width="0.15">iii</text>
<text x="1116.4" y="57.8" font-size="15" fill="#2962FF" text-anchor="middle" font-weight="normal" textLength="9.0" lengthAdjust="spacingAndGlyphs" stroke="#2962FF" stroke-width="0.15">v</text>
<text x="1064.9" y="255.3" font-size="15" fill="#2962FF" text-anchor="middle" font-weight="normal" textLength="13.0" lengthAdjust="spacingAndGlyphs" stroke="#2962FF" stroke-width="0.15">iv</text>
<circle cx="63.4" cy="443.4" r="11" fill="none" stroke="#2962FF" stroke-width="1.2"/>
<text x="63.4" y="448.8" font-size="15" fill="#2962FF" text-anchor="middle" font-weight="normal" textLength="4.0" lengthAdjust="spacingAndGlyphs" stroke="#2962FF" stroke-width="0.15">i</text>
<text x="63.7" y="489.4" font-size="15" fill="#2962FF" text-anchor="middle" font-weight="normal" textLength="21.0" lengthAdjust="spacingAndGlyphs" stroke="#2962FF" stroke-width="0.15">(v)</text>
<text x="50.9" y="505.1" font-size="15" fill="#2962FF" text-anchor="middle" font-weight="normal" textLength="24.0" lengthAdjust="spacingAndGlyphs" stroke="#2962FF" stroke-width="0.15">(iii)</text>
<text x="36.4" y="548.5" font-size="15" fill="#2962FF" text-anchor="middle" font-weight="normal" textLength="16.0" lengthAdjust="spacingAndGlyphs" stroke="#2962FF" stroke-width="0.15">(i)</text>
<text x="58.6" y="579.4" font-size="15" fill="#2962FF" text-anchor="middle" font-weight="normal" textLength="25.0" lengthAdjust="spacingAndGlyphs" stroke="#2962FF" stroke-width="0.15">(iv)</text>
<text x="43.1" y="618.5" font-size="15" fill="#2962FF" text-anchor="middle" font-weight="normal" textLength="20.0" lengthAdjust="spacingAndGlyphs" stroke="#2962FF" stroke-width="0.15">(ii)</text>
<circle cx="81.0" cy="599.9" r="11" fill="none" stroke="#2962FF" stroke-width="1.2"/>
<text x="81.0" y="605.3" font-size="15" fill="#2962FF" text-anchor="middle" font-weight="normal" textLength="9.0" lengthAdjust="spacingAndGlyphs" stroke="#2962FF" stroke-width="0.15">c</text>
<circle cx="77.4" cy="634.9" r="11" fill="none" stroke="#2962FF" stroke-width="1.2"/>
<text x="77.4" y="640.3" font-size="15" fill="#2962FF" text-anchor="middle" font-weight="normal" textLength="8.0" lengthAdjust="spacingAndGlyphs" stroke="#2962FF" stroke-width="0.15">ii</text>
<text x="29.1" y="646.3" font-size="15" fill="#089981" text-anchor="middle" font-weight="normal" textLength="21.0" lengthAdjust="spacingAndGlyphs" stroke="#089981" stroke-width="0.15">(v)</text>
<text x="132.6" y="491.6" font-size="15" fill="#2962FF" text-anchor="middle" font-weight="normal" textLength="16.0" lengthAdjust="spacingAndGlyphs" stroke="#2962FF" stroke-width="0.15">(i)</text>
<text x="149.2" y="588.0" font-size="15" fill="#2962FF" text-anchor="middle" font-weight="normal" textLength="20.0" lengthAdjust="spacingAndGlyphs" stroke="#2962FF" stroke-width="0.15">(ii)</text>
<text x="18.5" y="45.7" font-size="12" fill="#131722" text-anchor="start" font-weight="normal" textLength="168.9" lengthAdjust="spacingAndGlyphs" >Euro / U.S. Dollar · 1D · OANDA</text>
<text x="194.6" y="45.7" font-size="12" fill="#131722" text-anchor="start" font-weight="normal" >O</text>
<text x="203.8" y="45.7" font-size="12" fill="#F23645" text-anchor="start" font-weight="normal" textLength="40.8" lengthAdjust="spacingAndGlyphs" >1.19118</text>
<text x="252.4" y="45.7" font-size="12" fill="#131722" text-anchor="start" font-weight="normal" >H</text>
<text x="261.6" y="45.7" font-size="12" fill="#F23645" text-anchor="start" font-weight="normal" textLength="39.4" lengthAdjust="spacingAndGlyphs" >1.19171</text>
<text x="309.6" y="45.7" font-size="12" fill="#131722" text-anchor="start" font-weight="normal" >L</text>
<text x="316.8" y="45.7" font-size="12" fill="#F23645" text-anchor="start" font-weight="normal" textLength="40.5" lengthAdjust="spacingAndGlyphs" >1.18967</text>
<text x="365.8" y="45.7" font-size="12" fill="#131722" text-anchor="start" font-weight="normal" >C</text>
<text x="373.5" y="45.7" font-size="12" fill="#F23645" text-anchor="start" font-weight="normal" textLength="40.5" lengthAdjust="spacingAndGlyphs" >1.19040</text>
<text x="422.3" y="45.7" font-size="12" fill="#F23645" text-anchor="start" font-weight="normal" textLength="96.4" lengthAdjust="spacingAndGlyphs" >−0.00111 (−0.09%)</text>
<text x="18.5" y="62.2" font-size="12" fill="#131722" text-anchor="start" font-weight="normal" textLength="621.0" lengthAdjust="spacingAndGlyphs" >SMAs (10, close, 20, close, 30, close, 50, close, 90, close, 200, close, 300, close, 400, close, 500, close, 600, close)</text>
<text x="647.6" y="62.2" font-size="12" fill="#F23645" text-anchor="start" font-weight="normal" textLength="41.4" lengthAdjust="spacingAndGlyphs" >1.18604</text>
<text x="697.2" y="62.2" font-size="12" fill="#2962FF" text-anchor="start" font-weight="normal" textLength="40.0" lengthAdjust="spacingAndGlyphs" >1.18011</text>
<text x="746.2" y="62.2" font-size="12" fill="#089981" text-anchor="start" font-weight="normal" textLength="41.1" lengthAdjust="spacingAndGlyphs" >1.17422</text>
<text x="795.8" y="62.2" font-size="12" fill="#F57F17" text-anchor="start" font-weight="normal" textLength="41.1" lengthAdjust="spacingAndGlyphs" >1.16244</text>
<text x="18.7" y="679.3" font-size="12" fill="#131722" text-anchor="start" font-weight="normal" textLength="209.6" lengthAdjust="spacingAndGlyphs" >RSI (Wilder, 14, close, SMA, 40, SMA, 9)</text>
<text x="237.1" y="679.3" font-size="12" fill="#2962FF" text-anchor="start" font-weight="normal" textLength="28.5" lengthAdjust="spacingAndGlyphs" >56.26</text>
<text x="273.8" y="679.3" font-size="12" fill="#FF5252" text-anchor="start" font-weight="normal" textLength="29.2" lengthAdjust="spacingAndGlyphs" >56.08</text>
<text x="310.6" y="679.3" font-size="12" fill="#9C27B0" text-anchor="start" font-weight="normal" textLength="28.5" lengthAdjust="spacingAndGlyphs" >59.06</text>
<text x="18.0" y="822.9" font-size="12" fill="#131722" text-anchor="start" font-weight="normal" textLength="110.4" lengthAdjust="spacingAndGlyphs" >MACD (12, 26, close)</text>
<text x="136.6" y="822.9" font-size="12" fill="#26A69A" text-anchor="start" font-weight="normal" textLength="41.9" lengthAdjust="spacingAndGlyphs" >0.00020</text>
<text x="186.1" y="822.9" font-size="12" fill="#2962FF" text-anchor="start" font-weight="normal" textLength="41.0" lengthAdjust="spacingAndGlyphs" >0.00432</text>
<text x="234.7" y="822.9" font-size="12" fill="#FF6D00" text-anchor="start" font-weight="normal" textLength="40.9" lengthAdjust="spacingAndGlyphs" >0.00412</text>
<path d="M1446,127.2 H1504.0 Q1506.0,127.2 1506.0,129.2 V155.8 Q1506.0,157.8 1504.0,157.8 H1446 Z" fill="#F23645"/>
<text x="1454.4" y="139.9" font-size="12" fill="#FFFFFF" text-anchor="start" font-weight="bold" textLength="41.8" lengthAdjust="spacingAndGlyphs" >1.19040</text>
<text x="1454.4" y="153.4" font-size="12" fill="rgba(255,255,255,0.78)" text-anchor="start" font-weight="bold" textLength="45.3" lengthAdjust="spacingAndGlyphs" >16:10:41</text>
<path d="M1446,158.2 H1500.0 Q1502.0,158.2 1502.0,160.2 V173.0 Q1502.0,175.0 1500.0,175.0 H1446 Z" fill="#F23645"/>
<text x="1454.4" y="170.8" font-size="12" fill="#FFFFFF" text-anchor="start" font-weight="bold" textLength="41.5" lengthAdjust="spacingAndGlyphs" >1.18604</text>
<path d="M1446,175.0 H1500.0 Q1502.0,175.0 1502.0,177.0 V190.0 Q1502.0,192.0 1500.0,192.0 H1446 Z" fill="#2962FF"/>
<text x="1454.4" y="187.7" font-size="12" fill="#FFFFFF" text-anchor="start" font-weight="bold" textLength="41.5" lengthAdjust="spacingAndGlyphs" >1.18011</text>
<path d="M1446,192.0 H1500.0 Q1502.0,192.0 1502.0,194.0 V207.0 Q1502.0,209.0 1500.0,209.0 H1446 Z" fill="#089981"/>
<text x="1454.4" y="204.7" font-size="12" fill="#FFFFFF" text-anchor="start" font-weight="bold" textLength="41.5" lengthAdjust="spacingAndGlyphs" >1.17422</text>
<path d="M1446,209.2 H1500.0 Q1502.0,209.2 1502.0,211.2 V223.6 Q1502.0,225.6 1500.0,225.6 H1446 Z" fill="#F57F17"/>
<text x="1454.4" y="221.6" font-size="12" fill="#FFFFFF" text-anchor="start" font-weight="bold" textLength="41.5" lengthAdjust="spacingAndGlyphs" >1.16244</text>
<path d="M1446,702.0 H1487.0 Q1489.0,702.0 1489.0,704.0 V716.8 Q1489.0,718.8 1487.0,718.8 H1446 Z" fill="#9C27B0"/>
<text x="1454.4" y="714.6" font-size="12" fill="#FFFFFF" text-anchor="start" font-weight="bold" textLength="28.5" lengthAdjust="spacingAndGlyphs" >59.06</text>
<path d="M1446,718.8 H1487.0 Q1489.0,718.8 1489.0,720.8 V734.0 Q1489.0,736.0 1487.0,736.0 H1446 Z" fill="#2962FF"/>
<text x="1454.4" y="731.6" font-size="12" fill="#FFFFFF" text-anchor="start" font-weight="bold" textLength="28.5" lengthAdjust="spacingAndGlyphs" >56.26</text>
<path d="M1446,736.0 H1487.0 Q1489.0,736.0 1489.0,738.0 V751.0 Q1489.0,753.0 1487.0,753.0 H1446 Z" fill="#FF5252"/>
<text x="1454.4" y="748.7" font-size="12" fill="#FFFFFF" text-anchor="start" font-weight="bold" textLength="28.5" lengthAdjust="spacingAndGlyphs" >56.08</text>
<path d="M1446,832.2 H1499.7 Q1501.7,832.2 1501.7,834.2 V847.0 Q1501.7,849.0 1499.7,849.0 H1446 Z" fill="#2962FF"/>
<text x="1454.4" y="844.8" font-size="12" fill="#FFFFFF" text-anchor="start" font-weight="bold" textLength="41.5" lengthAdjust="spacingAndGlyphs" >0.00432</text>
<path d="M1446,849.0 H1499.7 Q1501.7,849.0 1501.7,851.0 V863.8 Q1501.7,865.8 1499.7,865.8 H1446 Z" fill="#FF6D00"/>
<text x="1454.4" y="861.6" font-size="12" fill="#FFFFFF" text-anchor="start" font-weight="bold" textLength="41.5" lengthAdjust="spacingAndGlyphs" >0.00412</text>
<path d="M1446,865.8 H1499.7 Q1501.7,865.8 1501.7,867.8 V881.0 Q1501.7,883.0 1499.7,883.0 H1446 Z" fill="#26A69A"/>
<text x="1454.4" y="878.6" font-size="12" fill="#FFFFFF" text-anchor="start" font-weight="bold" textLength="41.5" lengthAdjust="spacingAndGlyphs" >0.00020</text>
<path d="M11.9,957.3 H23.6 V971.8 H18 V962.5 H11.9 Z" fill="#131722"/>
<circle cx="29.0" cy="960.2" r="2.75" fill="#131722"/>
<path d="M33.1,957.3 H41.5 L36.5,971.8 H29.2 Z" fill="#131722"/>
<text x="49.3" y="971.8" font-size="20" fill="#131722" text-anchor="start" font-weight="bold" textLength="120.5" lengthAdjust="spacingAndGlyphs" >TradingView</text>
<text x="1455.0" y="66.8" font-size="12.5" fill="#131722" text-anchor="start" font-weight="normal" textLength="41.2" lengthAdjust="spacingAndGlyphs" >1.22000</text>
<text x="1455.0" y="116.6" font-size="12.5" fill="#131722" text-anchor="start" font-weight="normal" textLength="41.2" lengthAdjust="spacingAndGlyphs" >1.20000</text>
<text x="1455.0" y="271.0" font-size="12.5" fill="#131722" text-anchor="start" font-weight="normal" textLength="41.2" lengthAdjust="spacingAndGlyphs" >1.14000</text>
<text x="1455.0" y="324.3" font-size="12.5" fill="#131722" text-anchor="start" font-weight="normal" textLength="41.2" lengthAdjust="spacingAndGlyphs" >1.12000</text>
<text x="1455.0" y="378.5" font-size="12.5" fill="#131722" text-anchor="start" font-weight="normal" textLength="41.2" lengthAdjust="spacingAndGlyphs" >1.10000</text>
<text x="1455.0" y="419.8" font-size="12.5" fill="#131722" text-anchor="start" font-weight="normal" textLength="41.2" lengthAdjust="spacingAndGlyphs" >1.08500</text>
<text x="1455.0" y="461.7" font-size="12.5" fill="#131722" text-anchor="start" font-weight="normal" textLength="41.2" lengthAdjust="spacingAndGlyphs" >1.07000</text>
<text x="1455.0" y="504.2" font-size="12.5" fill="#131722" text-anchor="start" font-weight="normal" textLength="41.2" lengthAdjust="spacingAndGlyphs" >1.05500</text>
<text x="1455.0" y="547.3" font-size="12.5" fill="#131722" text-anchor="start" font-weight="normal" textLength="41.2" lengthAdjust="spacingAndGlyphs" >1.04000</text>
<text x="1455.0" y="582.3" font-size="12.5" fill="#131722" text-anchor="start" font-weight="normal" textLength="41.2" lengthAdjust="spacingAndGlyphs" >1.02800</text>
<text x="1455.0" y="617.6" font-size="12.5" fill="#131722" text-anchor="start" font-weight="normal" textLength="41.2" lengthAdjust="spacingAndGlyphs" >1.01600</text>
<text x="1455.0" y="650.4" font-size="12.5" fill="#131722" text-anchor="start" font-weight="normal" textLength="41.2" lengthAdjust="spacingAndGlyphs" >1.00500</text>
<text x="1455.0" y="690.6" font-size="12.5" fill="#131722" text-anchor="start" font-weight="normal" textLength="29.8" lengthAdjust="spacingAndGlyphs" >80.00</text>
<text x="1455.0" y="760.6" font-size="12.5" fill="#131722" text-anchor="start" font-weight="normal" textLength="29.8" lengthAdjust="spacingAndGlyphs" >40.00</text>
<text x="1455.0" y="795.3" font-size="12.5" fill="#131722" text-anchor="start" font-weight="normal" textLength="29.8" lengthAdjust="spacingAndGlyphs" >20.00</text>
<text x="1455.0" y="813.1" font-size="12.5" fill="#131722" text-anchor="start" font-weight="normal" textLength="41.2" lengthAdjust="spacingAndGlyphs" >0.02000</text>
<text x="81.5" y="925.5" font-size="12" fill="#131722" text-anchor="middle" font-weight="normal" >Feb</text>
<text x="149.5" y="925.5" font-size="12" fill="#131722" text-anchor="middle" font-weight="normal" >Mar</text>
<text x="221.5" y="925.5" font-size="12" fill="#131722" text-anchor="middle" font-weight="normal" >Apr</text>
<text x="297.5" y="925.5" font-size="12" fill="#131722" text-anchor="middle" font-weight="normal" >May</text>
<text x="372.5" y="925.5" font-size="12" fill="#131722" text-anchor="middle" font-weight="normal" >Jun</text>
<text x="444.5" y="925.5" font-size="12" fill="#131722" text-anchor="middle" font-weight="normal" >Jul</text>
<text x="523.5" y="925.5" font-size="12" fill="#131722" text-anchor="middle" font-weight="normal" >Aug</text>
<text x="595.5" y="925.5" font-size="12" fill="#131722" text-anchor="middle" font-weight="normal" >Sep</text>
<text x="670.5" y="925.5" font-size="12" fill="#131722" text-anchor="middle" font-weight="normal" >Oct</text>
<text x="749.5" y="925.5" font-size="12" fill="#131722" text-anchor="middle" font-weight="normal" >Nov</text>
<text x="818.5" y="925.5" font-size="12" fill="#131722" text-anchor="middle" font-weight="normal" >Dec</text>
<text x="893.5" y="925.5" font-size="12" fill="#131722" text-anchor="middle" font-weight="bold" >2026</text>
<text x="965.5" y="925.5" font-size="12" fill="#131722" text-anchor="middle" font-weight="normal" >Feb</text>
<text x="1033.5" y="925.5" font-size="12" fill="#131722" text-anchor="middle" font-weight="normal" >Mar</text>
<text x="1109.5" y="925.5" font-size="12" fill="#131722" text-anchor="middle" font-weight="normal" >Apr</text>
<text x="1184.5" y="925.5" font-size="12" fill="#131722" text-anchor="middle" font-weight="normal" >May</text>
<text x="1256.5" y="925.5" font-size="12" fill="#131722" text-anchor="middle" font-weight="normal" >Jun</text>
<text x="1332.5" y="925.5" font-size="12" fill="#131722" text-anchor="middle" font-weight="normal" >Jul</text>
<text x="1410.5" y="925.5" font-size="12" fill="#131722" text-anchor="middle" font-weight="normal" >Aug</text></svg></body></html>
